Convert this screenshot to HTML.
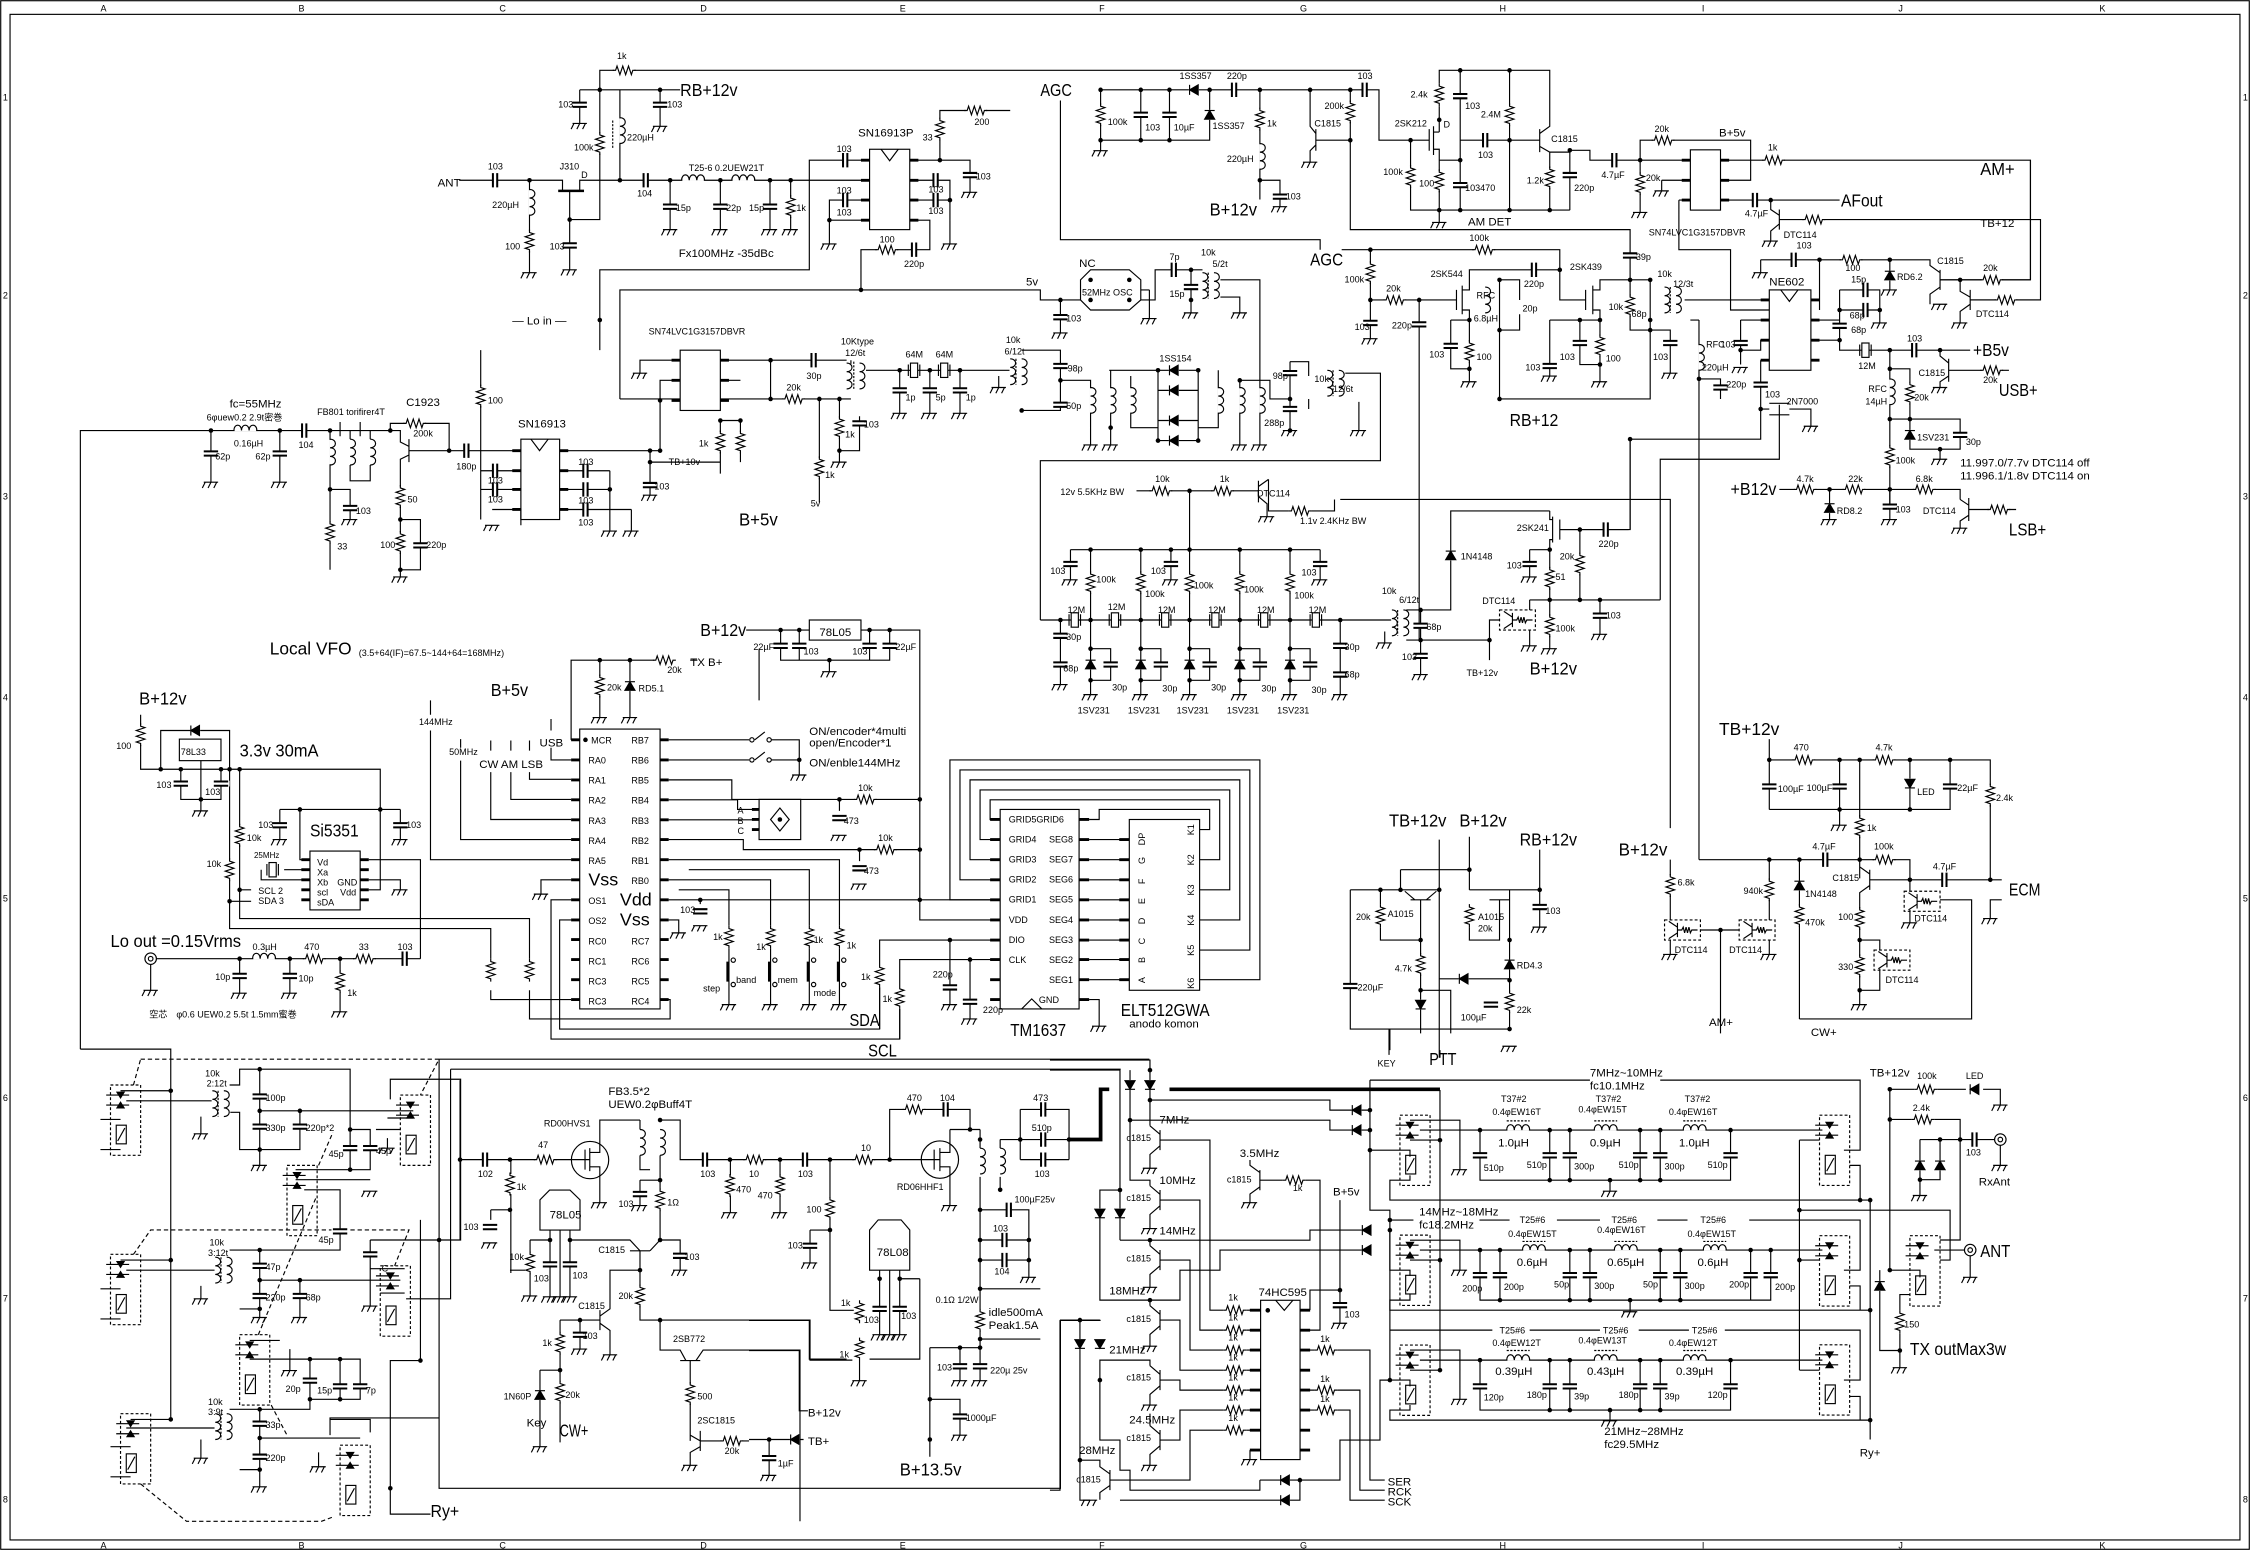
<!DOCTYPE html>
<html><head><meta charset="utf-8"><style>
html,body{margin:0;padding:0;background:#fff}
svg{display:block}
text{font-family:"Liberation Sans","Noto Sans CJK JP",sans-serif;font-size:6.3px;fill:#000;stroke:none}
.m{font-size:8px}.L{font-size:12.5px}.x{font-size:5.6px}
</style></head><body>
<svg xmlns="http://www.w3.org/2000/svg" width="2250" height="1550" viewBox="0 0 1568 1080" preserveAspectRatio="none">
<defs>
<g id="g"><path d="M-5,0H5M-4,0l-2,4M0,0l-2,4M4,0l-2,4"/></g>
<g id="rv"><rect x="-3.5" y="1" width="7" height="14" fill="#fff" stroke="none"/><path d="M0,0v2l3,1l-6,2l6,2l-6,2l6,2l-6,2l3,1v2"/></g>
<g id="rh"><rect x="1" y="-3.5" width="14" height="7" fill="#fff" stroke="none"/><path d="M0,0h2l1,-3l2,6l2,-6l2,6l2,-6l2,6l1,-3h2"/></g>
<g id="cv"><rect x="-6" y="-2" width="12" height="4" fill="#fff" stroke="none"/><path d="M-5,-1.5H5M-5,1.5H5" stroke-width="1.4"/></g>
<g id="ch"><rect x="-2" y="-6" width="4" height="12" fill="#fff" stroke="none"/><path d="M-1.5,-5V5M1.5,-5V5" stroke-width="1.4"/></g>
<g id="lh"><rect x="0.5" y="-4" width="15" height="4.5" fill="#fff" stroke="none"/><path d="M0,0c0,-5 5.3,-5 5.3,0c0,-5 5.3,-5 5.3,0c0,-5 5.4,-5 5.4,0"/></g>
<g id="lv"><rect x="-0.5" y="0.5" width="5" height="17" fill="#fff" stroke="none"/><path d="M0,0c5,0 5,6 0,6c5,0 5,6 0,6c5,0 5,6 0,6"/></g>
<g id="dh"><rect x="-3.5" y="-4" width="7" height="8" fill="#fff" stroke="none"/><path d="M3,-3.5V3.5L-3,0Z" fill="#000"/><path d="M-3,-3.5V3.5"/></g>
<g id="dv"><rect x="-4" y="-3.5" width="8" height="7" fill="#fff" stroke="none"/><path d="M-3.5,3H3.5L0,-3Z" fill="#000"/><path d="M-3.5,-3H3.5"/></g>
<g id="dd"><rect x="-4" y="-3.5" width="8" height="7" fill="#fff" stroke="none"/><path d="M-3.5,-3H3.5L0,3Z" fill="#000"/><path d="M-3.5,3H3.5"/></g>
<g id="xh"><rect x="-2.5" y="-5" width="5" height="10" fill="#fff"/><path d="M-4,-4V4M4,-4V4"/></g>
<circle id="d" r="1.6" fill="#000" stroke="none"/>
<g id="ry"><rect x="0" y="0" width="21" height="49" stroke-dasharray="2,1.5"/><rect x="4" y="28" width="7" height="13"/><path d="M5,39L10,30M-3,7H13M-3,14H13"/><path d="M4.5,5H9.5L7,9ZM4.5,16H9.5L7,12Z" fill="#000"/></g>
<g id="dt"><rect x="0" y="0" width="25" height="14" stroke-dasharray="2,1.5"/><path d="M9,2V12M9,5L3,1M9,9L3,13M9,7H12l1,-2l1,4l1,-4l1,4l1,-4l1,4l1,-2h4"/></g>
<g id="tr"><path d="M-4,0c0,-5 8,-5 8,0M0,-5V5" stroke-dasharray="1.5,1"/></g>
<g id="bnc"><circle r="4"/><circle r="1.6"/></g>
</defs>
<rect width="1568" height="1080" fill="#fff"/>
<g fill="none" stroke="#000" stroke-width="0.8">
<!-- frame -->
<rect x="0.5" y="0.5" width="1567" height="1079"/>
<rect x="7" y="10" width="1554" height="1063"/>

<!-- ===== top-left RF amp ===== -->
<path d="M418,90V49H955M404,62.6H432M404,62.6V86M418,62.6V153H397M432,62.6V125.6M432,62.6H474M460,62.6V88M320,125.6H392V133M404,133V125.6H606M397,133V188M369,125.6V190M467,125.6V160M502,125.6V160M536.6,125.6V160M551,125.6V160"/>
<path d="M389,133H407" stroke-width="1.8"/>
<path d="M418,244V188H564V111.6H606M578,153.4V139.4H606M578,153.4H606M578,153.4V170M634,111.6H676V134M655,111.6V77H704M634,125.6H662V170M634,139.4H662M634,153.4H648V174H600V202M432,278V202H725V209H753M739,209V232"/>
<rect x="606" y="104" width="28" height="56"/><path d="M614,104l6,8l6,-8"/>
<path d="M600,111.6h6M600,125.6h6M600,139.4h6M600,153.4h6M634,111.6h6M634,125.6h6M634,139.4h6M634,153.4h6" stroke-width="2"/>
<!-- left IC SN74 -->
<path d="M474,251H446V260M474,265H460V314M432,278H474M502,251H537V278H502M502,265H516M537,251H590M537,278H593M571,278V350M585,278V322M585,314H599V290M502,293V330M516,293V322M502,293H516M453,322H502M453,314V345M390,314H460"/>
<rect x="474" y="244" width="28" height="42"/>
<path d="M468,251h6M468,265h6M468,279h6M502,251h6M502,265h6M502,279h6" stroke-width="2"/>
<!-- SN16913 -->
<path d="M313,314H363M272,300V295H313V314M335,244V362M335,328H363M335,341H363M390,328H425M390,341H425M390,355H440M425,328V370M440,355V370M343,355H363V366"/>
<rect x="363" y="306" width="27" height="56"/><path d="M370,306l6,8l6,-8"/>
<path d="M357,314h6M357,328h6M357,341h6M357,355h6M390,314h6M390,328h6M390,341h6M390,355h6" stroke-width="2"/>
<!-- input chain -->
<path d="M56,731V300H272M147,300V336M195,300V336M230,300V397M230,341H244V362M244,306V300H237M258,306V300H251M244,324V335H258V324M265,300H272"/>
<path d="M237,294V304M251,294V304"/>
<path d="M272,300H279V308L285,311M285,306V322M285,314H313M285,317L279,320V402M279,362H293V397H279"/>
<!-- AGC detector -->
<path d="M739,70V167H920V174M767,62.6H961V97.7H996M767,62.6V105M767,97.7H843V62.6M795,62.6V97.7M815,62.6V97.7M878,62.6V139M878,125.6H892V144M913,62.6V88L917,93M917,90V105M917,97.7H941M917,101L913,105V113M941,62.6V160H1136V195"/>
<path d="M1003,58V49H1080V88L1073,93M1073,90V106M1073,102L1080,106H1094M1003,74V92M996,90V105M999,88V108M999,92H1003M999,104H1003V111.6H1017.6M1003,111.6V155M1017.6,49V146.4M1017.6,97.7H1073M983,97.7V146.4H1094M1052,49V146.4M1080,106V146.4M1094,104.7V146.4"/>
<path d="M1094,104.7H1108V111.6H1178M1143,111.6V97.7H1220V125.6H1199M1143,111.6V148M1158,125.6H1178M1158,125.6V133M1170,139.4H1178M1170,139.4V174H1206V216H1233M1199,111.6H1415V195H1352M1199,139.4H1282M1234,139.4V146L1240,150M1240,146V160M1240,153H1422V209H1373M1240,156L1234,161V168"/>
<rect x="1178" y="104.4" width="21" height="42"/>
<path d="M1172,111.6h6M1172,125.6h6M1172,139.4h6M1199,111.6h6M1199,125.6h6M1199,139.4h6" stroke-width="2"/>
<!-- 2SK544 / 2SK439 -->
<path d="M935,174H1087V209H1105M1035,188H1087M955,174V236M955,209H1015M989,209V446M1015,202V216M1019,199V219M1019,202H1024V188H1035M1019,216H1024V266M1011,223H1024M1011,223V257H1024"/>
<path d="M1045,195V278H1150V195M1045,195H1059V209M1059,219V230H1045M1105,202V216M1110,199V219M1110,202H1115V195H1150M1110,216H1115V266M1101,223H1115M1101,223V254H1115M1080,223H1101M1080,223V262M1136,195V230H1150M1150,230H1164V260M1174,209H1233M1184,223V599M1178,223H1184M1184,264H1199V278"/>
<!-- NE602 -->
<path d="M1213,223H1233M1213,223V254M1213,244H1227V237H1233M1227,251H1233M1227,251V306H1136V369H1087M1227,285H1233M1240,282V320H1157V418M1233,281H1247M1233,289H1247M1247,285H1262V297"/>
<rect x="1233" y="202" width="29" height="56"/><path d="M1241,202l6,8l6,-8"/>
<path d="M1227,209h6M1227,223h6M1227,237h6M1227,251h6M1262,209h6M1262,223h6M1262,237h6M1262,251h6" stroke-width="2"/>
<path d="M1262,223H1282M1282,202V244H1300M1262,237H1282M1282,202H1310V225M1282,216H1310M1300,244H1373M1317,244V328M1352,244V248L1358,253M1358,250V266M1358,258H1400M1358,262L1352,266V270M1317,257H1331V313H1366V292H1317M1352,313V320M1317,328V355"/>
<path d="M1240,341H1366V348M1366,348L1372,352M1372,347V363M1372,355H1405M1372,359L1366,363V368M1275,341V362M1317,341V362"/>
<path d="M1227,181H1268V216M1227,181V190M1268,181H1345V185L1352,190M1352,188V202M1352,195H1415M1352,200L1345,205V212M1317,181V202M1366,195V203L1373,207M1373,202V216M1373,209H1422M1373,212L1366,217V225"/>
<!-- OSC -->
<path d="M753,195L760,188H787L795,195V209L787,216H760L753,209Z"/>
<path d="M795,209H805V188H838M830,188V218M850,195H878V310M850,207H864V218M801,202V222M795,202H801"/>
<!-- mixer -->
<path d="M712,244H739V286H712M739,265H760V310M696,262V270M774,258V310M788,262V298H807M773,258H835M807,258V307M835,258V307M807,272H835M807,293H835M807,307H835M849,258V298H835M864,265V310M864,265H885V278H899M899,252V300M899,252H912V262M912,278V285M937,260H962V321H725V432M947,280V300"/>
<path d="M599,258H707M627,258V288M648,258V288M669,258V288M593,251V258"/>
<!-- xtal filter -->
<path d="M725,432H970M746,383H920M760,383V432M795,383V432M829,342V432M864,383V432M899,383V432M746,383V404M816,383V404M920,383V404M739,432V477M934,432V484"/>
<path d="M760,432V484M760,452H774V474H760M795,432V484M795,452H809V474H795M829,432V484M829,452H843V474H829M864,432V484M864,452H878V474H864M899,432V484M899,452H913V474H899"/>
<path d="M980,425H990V470M980,446H990M965,440V448M990,425H1011V356H1080M934,348H1164V577M990,446H1038V460M1038,446V432H1045"/>
<path d="M792,342H877M877,335V350M877,339L884,334M877,346L883,351V360M884,334V356H898M914,356H930V348"/>
<!-- 2SK241 -->
<path d="M1087,362V376M1082,360V378M1082,362H1080V356M1082,376H1080V452M1087,369H1135M1066,383H1080M1066,383V402M1101,369V418M1066,418H1157M1115,418V442M1066,418V425M1066,439V450M1080,418H1082"/>
<use href="#dt" x="1045" y="425"/>

<!-- ===== left middle: Si5351 / 78L33 ===== -->
<path d="M98,498V536H265V620M112,536V509H160V536M140,530V557M126,536V557H154V536M140,557V565M160,536V647H342V668M160,628H175M167,536V640H369V668M167,620H175M195,564H279M195,564V585M279,564V585M209,564V599H216M182,606V613H216M198,606H216M257,613H279V620M265,564V620H257M257,599H293V668"/>
<rect x="125" y="515" width="29" height="15"/>
<rect x="216" y="593" width="35" height="41"/>
<path d="M210,599h6M210,606h6M210,613h6M210,620h6M210,627h6M251,599h6M251,606h6M251,613h6M251,620h6M251,627h6" stroke-width="2"/>
<path d="M109,668H293M105,672V690M167,668V692M202,668V692M237,668V705"/>
<use href="#bnc" x="105" y="668"/>
<!-- PIC -->
<rect x="404" y="508" width="56" height="195"/>
<path d="M398,515.5h6M398,529.5h6M398,543.4h6M398,557.3h6M398,571.2h6M398,585h6M398,599h6M398,613h6M398,627h6M398,641h6M398,654.7h6M398,668.6h6M398,682.6h6M398,696.5h6M460,515.5h6M460,529.5h6M460,543.4h6M460,557.3h6M460,571.2h6M460,585h6M460,599h6M460,613h6M460,627h6M460,641h6M460,654.7h6M460,668.6h6M460,682.6h6M460,696.5h6" stroke-width="2"/>
<path d="M398,515.5V460H470M418,460V500M439,460V500M486,460H481M300,488V498M300,509V599H398M321,515V521M321,530V585H398M342,516V523M342,538V571H398M356,516V523M356,538V557H398M369,516V523M369,538V543H398M384,501V509M384,521V529.5H398M398,613H377V623M398,627H384V724H627V703M398,641H390V717H613V688M342,690V696.5H398M369,690V710H467V696.5H460"/>
<path d="M466,515.5H522M466,529.5H522M537.5,515.5H557V529.5M537.5,529.5H557V540M466,543.4H510V557H641M466,557.3H514V564H529M466,571.2H529M466,585H518V592H641M466,599H585V645M480,606H564V645M466,613H537V645M473,620H508V645M466,627H697M488,627V630M466,641H473V650M585,557V565M599,592V600M508,661V700M537,661V700M564,661V700M585,661V700"/>
<path d="M526,515.5L533,510M526,529.5L533,524"/>
<circle cx="524" cy="515.5" r="1.5"/><circle cx="536" cy="515.5" r="1.5"/><circle cx="524" cy="529.5" r="1.5"/><circle cx="536" cy="529.5" r="1.5"/>
<rect x="529" y="557" width="29" height="28"/><path d="M543.5,563L550,571L543.5,579L537,571Z"/>
<path d="M524,564h5M524,571h5M524,578h5" stroke-width="2"/>
<path d="M507,670V684M536,670V684M563,670V684M584,670V684" stroke-width="1.6"/>
<circle cx="511" cy="669" r="1.5"/><circle cx="511" cy="686" r="1.5"/><circle cx="540" cy="669" r="1.5"/><circle cx="540" cy="686" r="1.5"/><circle cx="567" cy="669" r="1.5"/><circle cx="567" cy="686" r="1.5"/><circle cx="588" cy="669" r="1.5"/><circle cx="588" cy="686" r="1.5"/>
<!-- 78L05 top -->
<path d="M520,439H564M600,439H641V641H697M544,439V460H620V439M557,439V460M606,439V460M578,460V468M529,452V488"/>
<rect x="564" y="432" width="36" height="14"/>
<!-- TM1637 / ELT512 -->
<rect x="697" y="564" width="55" height="139"/>
<path d="M712,703L719,696L726,703"/>
<path d="M690,571h7M690,585h7M690,599h7M690,613h7M690,627h7M690,641h7M690,655h7M690,668.6h7M690,682.6h7M690,696.5h7M752,571h7M752,585h7M752,599h7M752,613h7M752,627h7M752,641h7M752,655h7M752,668.6h7M752,682.6h7M752,696.5h7" stroke-width="2"/>
<rect x="787" y="571" width="49" height="119"/>
<path d="M759,585H787M759,599H787M759,613H787M759,627H787M759,641H787M759,655H787M759,668.6H787M759,682.6H787"/>
<path d="M780,585h7M780,599h7M780,613h7M780,627h7M780,641h7M780,655h7M780,668.6h7M780,682.6h7" stroke-width="2"/>
<path d="M697,627H662V529.5H878V682.6H836M697,613H669V536.5H871V662H836M697,599H676V543.4H864V641H836M697,585H683V550.4H857V620H836M697,571H690V557.3H850V599H836M759,571H766V564H843V578H836"/>
<path d="M697,655H613V672M613,688V717M697,668.6H627V687M627,703V724M662,655V700M676,668.6V710M759,696.5H766V715"/>
<!-- PTT -->
<path d="M1003,585V737M976,606H1024M1024,583V620M941,620H1003M976,606V620M983,627H997M986,627L979,621M994,627L1001,621M990,627V720M962,620V630M962,646V655H990M990,690H1011V720M941,620V717H1052M968,717V735M1024,620H1052M1045,627V655H1024V646M1038,627H1052M1052,620V717M1003,682H1052M1073,592V646M1052,620H1073"/>
<!-- TB+12v ECM -->
<path d="M1233,515V564M1233,529.5H1387V613M1233,564H1359V529.5M1282,529.5V575M1331,529.5V564M1296,529.5V612M1184,599H1331V613M1303,606V620M1303,613H1395M1303,609L1296,604V599M1303,617L1296,622V700M1296,655H1310V662M1310,675V690H1296M1331,613V621M1331,634V643M1352,627H1374V710H1254M1395,627H1387V640M1233,599V641M1233,655V665M1254,599V710M1164,599V641M1164,655V665M1185,648H1212M1199,648V720"/>
<use href="#dt" x="1327" y="621"/><use href="#dt" x="1306" y="662"/><use href="#dt" x="1212" y="641"/><use href="#dt" x="1160" y="641"/>
<!-- 2SK241 extra / right column lines -->
<path d="M1415,111.6V195M1136,306V369"/>

<!-- ===== bottom-left relay/BPF ===== -->
<path d="M56,731H119V989M88,767H148M140,778V790M160,756H167V745H244V815M160,775H167V801H209V785M181,745V812M181,774H288M244,787H258V815H244M209,774V801"/>
<path d="M88,885H150M140,896V905M160,871H237V858M181,871V918M181,892H279M209,892V918M167,912H181"/>
<path d="M88,995H150M140,1003V1016M160,982H216V947H251V975H216M237,947V975M181,982V1036M181,1002H251M167,1024H181"/>
<path d="M84,760H119M84,878H119M91,989H119M70,780H84M70,801H84M70,898H84M70,919H84M77,1008H91M77,1029H91"/>
<path d="M206,815H244M206,822H258M212,829H237V858M174,934H195M174,947H216M202,940V955M258,864V884H282M265,901H282M258,874V910M230,989H258V998M222,1012V1022M270,779H288M262,787H279M270,793V800"/>
<path d="M306,738H801M314,745H781M306,738V988H230V1000M314,745V905H283M272,766V752H321V864H258M293,850V948H272V1055H300M306,988V1037H739V920H767M306,864H321"/>
<path d="M98,738H306L293,763M93,756L98,738M93,874L105,857H285L275,882M98,1034L130,1060H224L232,1057M222,812L232,789M180,930L220,835M189,979L200,1000" stroke-dasharray="3,2"/>
<use href="#ry" x="77" y="756"/><use href="#ry" x="77" y="874"/><use href="#ry" x="84" y="985"/><use href="#ry" x="279" y="763"/><use href="#ry" x="200" y="812"/><use href="#ry" x="265" y="882"/><use href="#ry" x="167" y="930"/><use href="#ry" x="237" y="1007"/>
<!-- driver/PA -->
<path d="M320.6,752.6V864M320.6,808H411M356,808V887M342,843H356M342,843V850M355.4,843H355.4M355.4,885H366M411,808"/>
<circle cx="411.2" cy="808.3" r="13"/>
<path d="M407.7,801V815M411,800V816M411,803H418V780.4H446M411,813H418V838"/>
<path d="M446,780.4V787M460,780.4H474V808H509M446,805V815H453M460,805V864M446,822.3H460M446,822.3V840"/>
<path d="M376.3,857.1V836L383,829.2H397.2L404.2,836V857.1Z"/>
<path d="M383.3,857.1V903.6M390.3,857.1V903.6M397.2,857.1V903.6M369.4,864H383.3M369.4,864V903M397,864H439L446,871.5M439,871.5H453M453,871.5L460,864M460,864H474V885M446,871.5V885H425.1V912L418.1,917M446,885V919.8H460M418.1,912.9V926.8M418.1,922L425.1,927V944M418.1,919.8H390.3M404.2,919.8V940M390.3,919.8V1005M376.3,954.7H390.3M376.3,954.7V1008"/>
<path d="M460,919.8V940.7H474L478,948M474,948H488M485,948L490,940.7H557.5V1060M481,948V1004M488,997V1011M481,1000L488,1004M488,1004H522M488,1008L481,1012V1021"/>
<path d="M460,919.8H564.5V947.7H594"/>
<!-- main amp -->
<path d="M509,808H655M509,808V845M543.6,808V845M578.4,808V913H595M564.5,857.1H578.4M564.5,857.1V880M620,808V773H676V787M662,787H683"/>
<circle cx="655" cy="808" r="13"/>
<path d="M651,801V815M655,800V816M655,803H662V787M655,813H662V840M683,787V800M683,820V933M697,794V800M697,820V829M697,794H745M711,773V808M711,773H745V808M711,808H745"/>
<path d="M745,794H767V759H773M815,759H1003.5" stroke-width="2.6"/>
<path d="M683,843H717V890M683,864H717M683,878H717M683,898H725M683,933H725M683,933V962M648,939H683M669,939V962M648,939V1015M648,975H669V1000"/>
<path d="M606,857V885H634V857L628,850H612Z"/>
<path d="M613,885V930M620,885V930M627,885V930M641,891H627M641,891V947H606M564,920V947H590M522,920H564M522,941H557V983H563M599,948V962M522,1003H560M536,1003V1028"/>
<!-- band switch transistors -->
<path d="M731.7,738.6H801.4V784.4M731.7,745.6H780.5V864.1M787.5,745.6V822.3H801.4V826.2M787.5,780.5H926.8V787.4H954.7M801.4,766.5H926.8V773.5H954.7M801.4,868V864.1M780.5,864.1H912.9V857.1H954.7M801.4,909.8V905.9H766.5V829.2H780.5M801.4,905.9H822.3V885H850.2V871H954.7M801.4,951.6V947.7H766.5V1003.4H780.5V1024.4H787.5V1038.3H878V1031.3M738.7,919.8H766.5M752.6,919.8V1045.3H759.6M738.7,919.8V1038.3H731.7M752.6,1017.4H766.5V1022L773.5,1027M780.5,1045.3H895.5M899,1045.3H905.9V1031.3M878,1031.3H905.9H933.8V1003.4H961.7V961.6H968.6M801.4,993.4V985"/>
<path d="M808.4,787.4V801.4M801.4,784.4L808.4,790.4M808.4,798.4L801.4,804.4V814M808.4,829.2V843.2M801.4,826.2L808.4,832.2M808.4,840.2L801.4,846.2V856M808.4,871V885M801.4,868L808.4,874M808.4,882L801.4,888V897M808.4,912.8V926.8M801.4,909.8L808.4,915.8M808.4,923.8L801.4,929.8V938M808.4,954.6V968.6M801.4,951.6L808.4,957.6M808.4,965.6L801.4,971.6V979M808.4,996.4V1010.4M801.4,993.4L808.4,999.4M808.4,1007.4L801.4,1013.4V1021M773.5,1024.3V1038.3M773.5,1035L766.5,1040V1045"/>
<path d="M808.4,794.4H843.2V912.9H852.5M808.4,836.2H836.2V926.8H852.5M808.4,878H829.3V940.7H852.5M808.4,919.8H822.3V954.7H852.5M808.4,961.6H822.3V968.6H852.5M808.4,1003.4H822.3V982.5H852.5M773.5,1031.3H829.3V996.5H852.5M868.5,912.9H878.5M868.5,926.8H878.5M868.5,940.7H878.5M868.5,954.7H878.5M868.5,968.6H878.5M868.5,982.5H878.5M868.5,996.5H878.5"/>
<path d="M878,815.3V829.3M878,822.3H894M910,822.3H919.9V926.8H905.9M871.1,808.3V812L878,817M878,827L871.1,832V838M933.8,836.2V922M912.9,912.9V898.9H933.8M905.9,912.9H912.9M905.9,940.7H916M932,940.7H954.7V1031.3H965M905.9,968.6H916M932,968.6H947.7V1038.3H965M905.9,982.5H916M932,982.5H940.8V1045.3H965M871.1,1010.4V1017"/>
<rect x="878.5" y="906" width="27.5" height="111"/><path d="M889,906L895,913L901,906"/>
<path d="M871,912.9h7.5M871,926.8h7.5M871,940.7h7.5M871,954.7h7.5M871,968.6h7.5M871,982.5h7.5M871,996.5h7.5M871,1010.4h7.5M906,912.9h7M906,926.8h7M906,940.7h7M906,954.7h7M906,968.6h7M906,982.5h7M906,996.5h7M906,1010.4h7" stroke-width="2"/>
<!-- relays middle & filters -->
<path d="M954.7,752.6V843.2H968.6V961.6M954.7,752.6H1108M1157,752.6H1296.3V801.4H1285M954.7,801.4H982.6V806M982.6,819V822.3H968.6V836.2H1296.3M982.6,780.5H1017.4V815M989.5,787.4H1270M982.6,794.4H1003.5"/>
<path d="M968.6,850.1H985M1031,850.1H1052M1085,850.1H1115M1155,850.1H1176M1219,850.1H1296.3V885H1285M968.6,857.1V885H982.6V889M982.6,902V905.9H968.6V912.9H1303.3M982.6,864.1H1017.4V885M989.5,871H1270M982.6,878H1003.5"/>
<path d="M968.6,926.8H1040M1066,926.8H1115M1142,926.8H1177M1202,926.8H1296.3V961.6H1285M961.7,961.6H982.6V966M982.6,979V982.5H968.6V989.5H1303.3M982.6,940.7H1017.4V975M989.5,947.7H1270M982.6,954.7H1003.5M1003.5,759.5V954.7M968.6,731.7V717M1003.5,731.7V737"/>
<path d="M1031.4,787.4V822.3H1206V787.4M1080,787.4V822.3M1094,787.4V822.3M1143,787.4V822.3M1157,787.4V822.3M1122,822.3V830"/>
<path d="M1031.4,871V905.9H1234V871M1045.3,871V905.9M1094,871V905.9M1108,871V905.9M1157,871V905.9M1171,871V905.9M1220,871V905.9M1136,905.9V914"/>
<path d="M1031.4,947.7V982.5H1206V947.7M1080,947.7V982.5M1094,947.7V982.5M1143,947.7V982.5M1157,947.7V982.5M1122,982.5V990"/>
<use href="#ry" x="975.6" y="777"/><use href="#ry" x="975.6" y="860.6"/><use href="#ry" x="975.6" y="937.2"/>
<use href="#ry" x="1268" y="777"/><use href="#ry" x="1268" y="861"/><use href="#ry" x="1268" y="937"/><use href="#ry" x="1331" y="861"/>
<path d="M1254,794.4V954.7M1254,794.4H1268M1254,878H1268M1254,954.7H1268M1289,812H1296.3V836.2H1303.3V1003M1289,896H1296.3V912.9M1289,973H1296.3V989.5M1254,843.2H1359V878H1352"/>
<path d="M1317,759V885M1317,759H1334M1350,759H1370M1382,759H1394V770M1317,780H1332M1348,780H1366V864H1352M1338,794H1390M1338,794V822H1352V794M1338,822V833M1394,798V812M1348,871H1369M1373,875V890M1317,885H1338V890M1331,902H1324V913M1324,929V953M1310,885V941H1324"/>
<use href="#bnc" x="1394" y="794"/><use href="#bnc" x="1373" y="871"/>
</g>

<!-- ===== components ===== -->
<g fill="none" stroke="#000" stroke-width="0.8">
<!-- resistors vertical -->
<use href="#rv" x="418" y="92"/><use href="#rv" x="369" y="160"/><use href="#rv" x="551" y="136"/><use href="#rv" x="655" y="82"/><use href="#rv" x="335" y="268"/><use href="#rv" x="502" y="300"/><use href="#rv" x="516" y="300"/><use href="#rv" x="571" y="318"/><use href="#rv" x="585" y="290"/><use href="#rv" x="230" y="363"/><use href="#rv" x="279" y="338"/><use href="#rv" x="279" y="370"/>
<use href="#rv" x="767" y="72"/><use href="#rv" x="878" y="75"/><use href="#rv" x="941" y="70"/><use href="#rv" x="1003" y="58"/><use href="#rv" x="1052" y="72"/><use href="#rv" x="1003" y="118"/><use href="#rv" x="983" y="115"/><use href="#rv" x="1080" y="116"/><use href="#rv" x="1143" y="120"/><use href="#rv" x="955" y="182"/><use href="#rv" x="1024" y="237"/><use href="#rv" x="1115" y="233"/><use href="#rv" x="1136" y="205"/><use href="#rv" x="1331" y="266"/><use href="#rv" x="1317" y="310"/>
<use href="#rv" x="760" y="398"/><use href="#rv" x="795" y="398"/><use href="#rv" x="829" y="398"/><use href="#rv" x="864" y="398"/><use href="#rv" x="899" y="398"/><use href="#rv" x="1080" y="395"/><use href="#rv" x="1101" y="385"/><use href="#rv" x="1080" y="428"/>
<use href="#rv" x="98" y="504"/><use href="#rv" x="160" y="598"/><use href="#rv" x="167" y="574"/><use href="#rv" x="237" y="676"/><use href="#rv" x="342" y="668"/><use href="#rv" x="369" y="668"/><use href="#rv" x="418" y="470"/><use href="#rv" x="508" y="645"/><use href="#rv" x="537" y="645"/><use href="#rv" x="564" y="645"/><use href="#rv" x="585" y="645"/><use href="#rv" x="613" y="672"/><use href="#rv" x="627" y="687"/>
<use href="#rv" x="962" y="630"/><use href="#rv" x="990" y="664"/><use href="#rv" x="1024" y="630"/><use href="#rv" x="1052" y="690"/><use href="#rv" x="1387" y="546"/><use href="#rv" x="1296" y="568"/><use href="#rv" x="1296" y="632"/><use href="#rv" x="1296" y="665"/><use href="#rv" x="1233" y="612"/><use href="#rv" x="1254" y="630"/><use href="#rv" x="1164" y="609"/>
<use href="#rv" x="355.4" y="817"/><use href="#rv" x="460" y="828"/><use href="#rv" x="446" y="895"/><use href="#rv" x="390.3" y="928"/><use href="#rv" x="390.3" y="962"/><use href="#rv" x="481" y="963"/><use href="#rv" x="508.7" y="818"/><use href="#rv" x="543.6" y="818"/><use href="#rv" x="578.4" y="834"/><use href="#rv" x="683" y="912"/><use href="#rv" x="599" y="906"/><use href="#rv" x="599" y="932"/><use href="#rv" x="369.4" y="872"/><use href="#rv" x="1324" y="913"/>
<!-- resistors horizontal -->
<use href="#rh" x="427" y="49"/><use href="#rh" x="672" y="77"/><use href="#rh" x="610" y="174"/><use href="#rh" x="545" y="278"/><use href="#rh" x="281" y="295"/><use href="#rh" x="1151" y="97.7"/><use href="#rh" x="1228" y="111.6"/><use href="#rh" x="1256" y="153"/><use href="#rh" x="1026" y="174"/><use href="#rh" x="964" y="209"/><use href="#rh" x="1282" y="181"/><use href="#rh" x="1380" y="195"/><use href="#rh" x="1390" y="209"/><use href="#rh" x="1380" y="258"/><use href="#rh" x="1250" y="341"/><use href="#rh" x="1284" y="341"/><use href="#rh" x="1333" y="341"/><use href="#rh" x="1385" y="355"/><use href="#rh" x="801" y="342"/><use href="#rh" x="844" y="342"/><use href="#rh" x="898" y="356"/>
<use href="#rh" x="211" y="668"/><use href="#rh" x="246" y="668"/><use href="#rh" x="455" y="460"/><use href="#rh" x="595" y="557"/><use href="#rh" x="609" y="592"/><use href="#rh" x="1249" y="529.5"/><use href="#rh" x="1305" y="529.5"/><use href="#rh" x="1305" y="599"/>
<use href="#rh" x="372" y="808"/><use href="#rh" x="518" y="808"/><use href="#rh" x="594" y="808"/><use href="#rh" x="629" y="773"/><use href="#rh" x="502" y="1004"/>
<use href="#rh" x="852.5" y="912.9"/><use href="#rh" x="852.5" y="926.8"/><use href="#rh" x="852.5" y="940.7"/><use href="#rh" x="852.5" y="954.7"/><use href="#rh" x="852.5" y="968.6"/><use href="#rh" x="852.5" y="982.5"/><use href="#rh" x="852.5" y="996.5"/><use href="#rh" x="916" y="940.7"/><use href="#rh" x="916" y="968.6"/><use href="#rh" x="916" y="982.5"/><use href="#rh" x="894" y="822.3"/><use href="#rh" x="1334" y="759"/><use href="#rh" x="1332" y="780"/>
<!-- caps on vertical wires -->
<use href="#cv" x="404" y="73"/><use href="#cv" x="460" y="73"/><use href="#cv" x="397" y="171"/><use href="#cv" x="467" y="144"/><use href="#cv" x="502" y="144"/><use href="#cv" x="536.6" y="144"/><use href="#cv" x="676" y="122"/><use href="#cv" x="795" y="80"/><use href="#cv" x="815" y="80"/><use href="#cv" x="892" y="137"/><use href="#cv" x="1017.6" y="67"/><use href="#cv" x="1017.6" y="129"/><use href="#cv" x="1094" y="122"/><use href="#cv" x="1136" y="178"/><use href="#cv" x="955" y="225"/><use href="#cv" x="989" y="226"/><use href="#cv" x="1011" y="241"/><use href="#cv" x="1101" y="239"/><use href="#cv" x="1080" y="255"/><use href="#cv" x="1164" y="239"/><use href="#cv" x="1199" y="270"/><use href="#cv" x="1213" y="239"/><use href="#cv" x="1227" y="268"/><use href="#cv" x="1282" y="227"/><use href="#cv" x="1366" y="303"/><use href="#cv" x="1317" y="353"/>
<use href="#cv" x="147" y="316"/><use href="#cv" x="195" y="316"/><use href="#cv" x="244" y="354"/><use href="#cv" x="293" y="380"/><use href="#cv" x="453" y="338"/><use href="#cv" x="599" y="295"/><use href="#cv" x="627" y="272"/><use href="#cv" x="648" y="272"/><use href="#cv" x="669" y="272"/><use href="#cv" x="739" y="221"/><use href="#cv" x="830" y="200"/><use href="#cv" x="739" y="255"/><use href="#cv" x="739" y="282"/><use href="#cv" x="899" y="260"/><use href="#cv" x="899" y="285"/>
<use href="#cv" x="746" y="393"/><use href="#cv" x="816" y="393"/><use href="#cv" x="920" y="393"/><use href="#cv" x="739" y="443"/><use href="#cv" x="739" y="463"/><use href="#cv" x="774" y="463"/><use href="#cv" x="809" y="463"/><use href="#cv" x="843" y="463"/><use href="#cv" x="878" y="463"/><use href="#cv" x="913" y="463"/><use href="#cv" x="934" y="450"/><use href="#cv" x="934" y="470"/><use href="#cv" x="990" y="436"/><use href="#cv" x="990" y="457"/><use href="#cv" x="1066" y="393"/><use href="#cv" x="1115" y="429"/>
<use href="#cv" x="126" y="546"/><use href="#cv" x="154" y="546"/><use href="#cv" x="195" y="575"/><use href="#cv" x="279" y="575"/><use href="#cv" x="167" y="680"/><use href="#cv" x="202" y="680"/><use href="#cv" x="488" y="635"/><use href="#cv" x="544" y="450"/><use href="#cv" x="557" y="450"/><use href="#cv" x="606" y="450"/><use href="#cv" x="620" y="450"/><use href="#cv" x="585" y="570"/><use href="#cv" x="599" y="605"/><use href="#cv" x="662" y="688"/><use href="#cv" x="676" y="698"/><use href="#cv" x="941" y="687"/><use href="#cv" x="1039" y="700"/><use href="#cv" x="1073" y="632"/><use href="#cv" x="1233" y="548"/><use href="#cv" x="1282" y="548"/><use href="#cv" x="1359" y="548"/>
<use href="#cv" x="341.5" y="855"/><use href="#cv" x="383.3" y="881"/><use href="#cv" x="397.2" y="881"/><use href="#cv" x="446" y="832"/><use href="#cv" x="474" y="875"/><use href="#cv" x="404.2" y="930"/><use href="#cv" x="564.5" y="868"/><use href="#cv" x="613" y="912"/><use href="#cv" x="627" y="912"/><use href="#cv" x="669" y="952"/><use href="#cv" x="683" y="952"/><use href="#cv" x="669" y="987"/><use href="#cv" x="536" y="1016"/><use href="#cv" x="933.8" y="909.4"/>
<use href="#cv" x="181" y="764"/><use href="#cv" x="181" y="785"/><use href="#cv" x="209" y="785"/><use href="#cv" x="244" y="800"/><use href="#cv" x="258" y="800"/><use href="#cv" x="181" y="882"/><use href="#cv" x="181" y="903"/><use href="#cv" x="209" y="903"/><use href="#cv" x="216" y="962"/><use href="#cv" x="237" y="966"/><use href="#cv" x="251" y="966"/><use href="#cv" x="181" y="992"/><use href="#cv" x="181" y="1015"/><use href="#cv" x="258" y="874"/><use href="#cv" x="237" y="858"/>
<use href="#cv" x="1031.4" y="805"/><use href="#cv" x="1080" y="805"/><use href="#cv" x="1094" y="805"/><use href="#cv" x="1143" y="805"/><use href="#cv" x="1157" y="805"/><use href="#cv" x="1206" y="805"/>
<use href="#cv" x="1031.4" y="888.5"/><use href="#cv" x="1045.3" y="888.5"/><use href="#cv" x="1094" y="888.5"/><use href="#cv" x="1108" y="888.5"/><use href="#cv" x="1157" y="888.5"/><use href="#cv" x="1171" y="888.5"/><use href="#cv" x="1220" y="888.5"/><use href="#cv" x="1234" y="888.5"/>
<use href="#cv" x="1031.4" y="966"/><use href="#cv" x="1080" y="966"/><use href="#cv" x="1094" y="966"/><use href="#cv" x="1143" y="966"/><use href="#cv" x="1157" y="966"/><use href="#cv" x="1206" y="966"/>
<!-- caps on horizontal wires -->
<use href="#ch" x="345" y="125.6"/><use href="#ch" x="450" y="125.6"/><use href="#ch" x="589" y="111.6"/><use href="#ch" x="589" y="139.4"/><use href="#ch" x="652" y="125.6"/><use href="#ch" x="652" y="139.4"/><use href="#ch" x="637" y="174"/><use href="#ch" x="567" y="251"/><use href="#ch" x="212" y="300"/><use href="#ch" x="325" y="314"/><use href="#ch" x="345" y="328"/><use href="#ch" x="345" y="341"/><use href="#ch" x="408" y="328"/><use href="#ch" x="408" y="341"/><use href="#ch" x="408" y="355"/><use href="#ch" x="860" y="62.6"/><use href="#ch" x="951" y="62.6"/><use href="#ch" x="1035" y="97.7"/><use href="#ch" x="1125" y="111.6"/><use href="#ch" x="1223" y="139.4"/><use href="#ch" x="1069" y="188"/><use href="#ch" x="1250" y="181"/><use href="#ch" x="1300" y="202"/><use href="#ch" x="1300" y="216"/><use href="#ch" x="1334" y="244"/><use href="#ch" x="818" y="188"/><use href="#ch" x="1119" y="369"/><use href="#ch" x="282" y="668"/><use href="#ch" x="1272" y="599"/><use href="#ch" x="1355" y="613"/>
<use href="#ch" x="338" y="808"/><use href="#ch" x="491.3" y="808"/><use href="#ch" x="561" y="808"/><use href="#ch" x="659" y="773"/><use href="#ch" x="727" y="773"/><use href="#ch" x="727" y="794"/><use href="#ch" x="727" y="808"/><use href="#ch" x="703" y="843"/><use href="#ch" x="700" y="864"/><use href="#ch" x="700" y="878"/><use href="#ch" x="1376" y="794"/>
<!-- inductors -->
<use href="#lv" x="432" y="82"/><use href="#lv" x="369" y="132"/><use href="#lv" x="878" y="100"/><use href="#lv" x="230" y="306"/><use href="#lv" x="244" y="306"/><use href="#lv" x="258" y="306"/><use href="#lv" x="760" y="270"/><use href="#lv" x="774" y="270"/><use href="#lv" x="788" y="270"/><use href="#lv" x="849" y="270"/><use href="#lv" x="864" y="270"/><use href="#lv" x="878" y="270"/><use href="#lv" x="1317" y="264"/><use href="#lv" x="1184" y="240"/><use href="#lv" x="1035" y="200"/><use href="#lv" x="446" y="787"/><use href="#lv" x="460" y="787"/><use href="#lv" x="683" y="800"/><use href="#lv" x="697" y="800"/>
<use href="#lv" x="590" y="253"/><use href="#lv" x="599" y="253"/><use href="#lv" x="704" y="250"/><use href="#lv" x="712" y="250"/><use href="#lv" x="838" y="190"/><use href="#lv" x="846" y="190"/><use href="#lv" x="925" y="258"/><use href="#lv" x="933" y="258"/><use href="#lv" x="1160" y="200"/><use href="#lv" x="1168" y="200"/><use href="#lv" x="970" y="425"/><use href="#lv" x="978" y="425"/><use href="#lv" x="148" y="760"/><use href="#lv" x="156" y="760"/><use href="#lv" x="150" y="876"/><use href="#lv" x="158" y="876"/><use href="#lv" x="150" y="985"/><use href="#lv" x="158" y="985"/>
<use href="#lh" x="475" y="125.6"/><use href="#lh" x="510" y="125.6"/><use href="#lh" x="163" y="300"/><use href="#lh" x="176" y="668"/>
<use href="#lh" x="1050" y="787.4"/><use href="#lh" x="1111" y="787.4"/><use href="#lh" x="1173" y="787.4"/><use href="#lh" x="1061" y="871"/><use href="#lh" x="1125" y="871"/><use href="#lh" x="1187" y="871"/><use href="#lh" x="1050" y="947.7"/><use href="#lh" x="1111" y="947.7"/><use href="#lh" x="1173" y="947.7"/>
<path d="M427,84V104M1050,781H1066M1111,781H1127M1173,781H1189M1061,865H1077M1125,865H1141M1187,865H1203M1050,941H1066M1111,941H1127M1173,941H1189M595,252V272M708,250V268M842,190V208M929,258V276M1164,200V218M974,425V443M152,760V778M154,876V894M154,985V1003" stroke-dasharray="1.5,1"/>
<!-- crystals -->
<use href="#xh" x="637" y="258"/><use href="#xh" x="658" y="258"/><use href="#xh" x="749" y="432"/><use href="#xh" x="777" y="432"/><use href="#xh" x="812" y="432"/><use href="#xh" x="847" y="432"/><use href="#xh" x="881" y="432"/><use href="#xh" x="917" y="432"/><use href="#xh" x="1300" y="244"/><use href="#xh" x="190" y="606"/>
<!-- diodes -->
<use href="#dh" x="832" y="62.6"/><use href="#dv" x="843" y="80"/><use href="#dh" x="818" y="258"/><use href="#dh" x="818" y="272"/><use href="#dh" x="818" y="293"/><use href="#dh" x="818" y="307"/><use href="#dv" x="1317" y="192"/><use href="#dv" x="1275" y="354"/><use href="#dv" x="1011" y="387"/><use href="#dv" x="1331" y="303"/>
<use href="#dv" x="760" y="463"/><use href="#dv" x="795" y="463"/><use href="#dv" x="829" y="463"/><use href="#dv" x="864" y="463"/><use href="#dv" x="899" y="463"/><use href="#dv" x="439" y="478"/><use href="#dh" x="136" y="509"/><use href="#dd" x="990" y="700"/><use href="#dh" x="1020" y="682"/><use href="#dv" x="1052" y="672"/><use href="#dv" x="1254" y="617"/><use href="#dd" x="1331" y="546"/><use href="#dv" x="376.3" y="972"/><use href="#dh" x="554" y="1003"/>
<use href="#dd" x="787.5" y="756"/><use href="#dd" x="801.4" y="756"/><use href="#dd" x="752.6" y="936.5"/><use href="#dd" x="766.5" y="936.5"/><use href="#dd" x="766.5" y="845.5"/><use href="#dd" x="780.5" y="845.5"/><use href="#dh" x="945.4" y="773.5"/><use href="#dh" x="945.4" y="787.4"/><use href="#dh" x="952.4" y="857.1"/><use href="#dh" x="952.4" y="871"/><use href="#dh" x="895.5" y="1031.3"/><use href="#dh" x="895.5" y="1045.3"/><use href="#dh" x="1376" y="759"/><use href="#dv" x="1338" y="812"/><use href="#dv" x="1352" y="812"/><use href="#dv" x="1310" y="896"/>
<!-- grounds -->
<use href="#g" x="404" y="86"/><use href="#g" x="460" y="88"/><use href="#g" x="397" y="188"/><use href="#g" x="369" y="190"/><use href="#g" x="467" y="160"/><use href="#g" x="502" y="160"/><use href="#g" x="536.6" y="160"/><use href="#g" x="551" y="160"/><use href="#g" x="578" y="170"/><use href="#g" x="676" y="134"/><use href="#g" x="662" y="170"/><use href="#g" x="739" y="232"/><use href="#g" x="446" y="260"/><use href="#g" x="585" y="322"/><use href="#g" x="453" y="345"/><use href="#g" x="343" y="366"/><use href="#g" x="425" y="370"/><use href="#g" x="440" y="370"/><use href="#g" x="147" y="336"/><use href="#g" x="195" y="336"/><use href="#g" x="244" y="362"/><use href="#g" x="279" y="402"/>
<use href="#g" x="767" y="105"/><use href="#g" x="892" y="144"/><use href="#g" x="913" y="113"/><use href="#g" x="1003" y="155"/><use href="#g" x="1143" y="148"/><use href="#g" x="1158" y="133"/><use href="#g" x="1234" y="168"/><use href="#g" x="955" y="236"/><use href="#g" x="1024" y="266"/><use href="#g" x="1115" y="266"/><use href="#g" x="1080" y="262"/><use href="#g" x="1164" y="260"/><use href="#g" x="1262" y="297"/><use href="#g" x="1310" y="225"/><use href="#g" x="1227" y="190"/><use href="#g" x="1317" y="202"/><use href="#g" x="1352" y="212"/><use href="#g" x="1366" y="225"/><use href="#g" x="1352" y="270"/><use href="#g" x="1352" y="320"/><use href="#g" x="1366" y="368"/><use href="#g" x="1317" y="362"/><use href="#g" x="1275" y="362"/><use href="#g" x="1213" y="256"/>
<use href="#g" x="830" y="218"/><use href="#g" x="864" y="218"/><use href="#g" x="801" y="222"/><use href="#g" x="696" y="270"/><use href="#g" x="760" y="310"/><use href="#g" x="774" y="310"/><use href="#g" x="864" y="310"/><use href="#g" x="878" y="310"/><use href="#g" x="899" y="300"/><use href="#g" x="947" y="300"/><use href="#g" x="627" y="288"/><use href="#g" x="648" y="288"/><use href="#g" x="669" y="288"/>
<use href="#g" x="746" y="404"/><use href="#g" x="816" y="404"/><use href="#g" x="920" y="404"/><use href="#g" x="739" y="477"/><use href="#g" x="760" y="484"/><use href="#g" x="795" y="484"/><use href="#g" x="829" y="484"/><use href="#g" x="864" y="484"/><use href="#g" x="899" y="484"/><use href="#g" x="934" y="484"/><use href="#g" x="965" y="448"/><use href="#g" x="990" y="470"/><use href="#g" x="883" y="360"/><use href="#g" x="1066" y="402"/><use href="#g" x="1115" y="442"/><use href="#g" x="1066" y="450"/><use href="#g" x="1080" y="452"/>
<use href="#g" x="140" y="565"/><use href="#g" x="195" y="585"/><use href="#g" x="279" y="585"/><use href="#g" x="279" y="620"/><use href="#g" x="105" y="690"/><use href="#g" x="167" y="692"/><use href="#g" x="202" y="692"/><use href="#g" x="237" y="705"/><use href="#g" x="418" y="500"/><use href="#g" x="439" y="500"/><use href="#g" x="377" y="623"/><use href="#g" x="488" y="645"/><use href="#g" x="473" y="650"/><use href="#g" x="557" y="540"/><use href="#g" x="585" y="582"/><use href="#g" x="599" y="616"/><use href="#g" x="508" y="700"/><use href="#g" x="537" y="700"/><use href="#g" x="564" y="700"/><use href="#g" x="585" y="700"/><use href="#g" x="578" y="468"/><use href="#g" x="662" y="700"/><use href="#g" x="676" y="710"/><use href="#g" x="766" y="715"/>
<use href="#g" x="1073" y="646"/><use href="#g" x="1282" y="575"/><use href="#g" x="1296" y="700"/><use href="#g" x="1331" y="643"/><use href="#g" x="1387" y="640"/><use href="#g" x="1233" y="665"/><use href="#g" x="1164" y="665"/>
<use href="#g" x="140" y="790"/><use href="#g" x="181" y="812"/><use href="#g" x="270" y="800"/><use href="#g" x="258" y="830"/><use href="#g" x="140" y="905"/><use href="#g" x="181" y="918"/><use href="#g" x="209" y="918"/><use href="#g" x="258" y="910"/><use href="#g" x="202" y="955"/><use href="#g" x="140" y="1016"/><use href="#g" x="181" y="1036"/><use href="#g" x="222" y="1022"/>
<use href="#g" x="418" y="838"/><use href="#g" x="341.5" y="866"/><use href="#g" x="446" y="840"/><use href="#g" x="369.4" y="903"/><use href="#g" x="383.3" y="903.6"/><use href="#g" x="390.3" y="903.6"/><use href="#g" x="397.2" y="903.6"/><use href="#g" x="474" y="885"/><use href="#g" x="404.2" y="940"/><use href="#g" x="425.1" y="944"/><use href="#g" x="376.3" y="1008"/><use href="#g" x="481" y="1021"/>
<use href="#g" x="508.7" y="845"/><use href="#g" x="543.6" y="845"/><use href="#g" x="564.5" y="880"/><use href="#g" x="662" y="840"/><use href="#g" x="717" y="890"/><use href="#g" x="669" y="962"/><use href="#g" x="683" y="962"/><use href="#g" x="669" y="1000"/><use href="#g" x="613" y="930"/><use href="#g" x="620" y="930"/><use href="#g" x="627" y="930"/><use href="#g" x="599" y="962"/><use href="#g" x="536" y="1028"/>
<use href="#g" x="801.4" y="814"/><use href="#g" x="801.4" y="856"/><use href="#g" x="801.4" y="897"/><use href="#g" x="801.4" y="938"/><use href="#g" x="801.4" y="979"/><use href="#g" x="801.4" y="1021"/><use href="#g" x="759.6" y="1045.3"/><use href="#g" x="871.1" y="838"/><use href="#g" x="933.8" y="922"/><use href="#g" x="871.1" y="1017"/>
<use href="#g" x="1017.4" y="815"/><use href="#g" x="1017.4" y="885"/><use href="#g" x="1017.4" y="975"/><use href="#g" x="1122" y="830"/><use href="#g" x="1136" y="914"/><use href="#g" x="1122" y="990"/><use href="#g" x="1394" y="770"/><use href="#g" x="1394" y="812"/><use href="#g" x="1338" y="833"/><use href="#g" x="1373" y="890"/><use href="#g" x="1324" y="953"/><use href="#g" x="1052" y="729"/>
<!-- transformer cores -->
</g>

<!-- dots -->
<g>
<use href="#d" x="418" y="62.6"/><use href="#d" x="460" y="62.6"/><use href="#d" x="369" y="125.6"/><use href="#d" x="397" y="153"/><use href="#d" x="432" y="125.6"/><use href="#d" x="467" y="125.6"/><use href="#d" x="502" y="125.6"/><use href="#d" x="536.6" y="125.6"/><use href="#d" x="551" y="125.6"/><use href="#d" x="578" y="153.4"/><use href="#d" x="655" y="111.6"/><use href="#d" x="662" y="139.4"/><use href="#d" x="600" y="202"/><use href="#d" x="418" y="223"/><use href="#d" x="739" y="209"/><use href="#d" x="460" y="279"/><use href="#d" x="460" y="314"/><use href="#d" x="453" y="314"/><use href="#d" x="453" y="322"/><use href="#d" x="537" y="251"/><use href="#d" x="537" y="278"/><use href="#d" x="571" y="278"/><use href="#d" x="585" y="278"/><use href="#d" x="585" y="314"/><use href="#d" x="502" y="293"/><use href="#d" x="516" y="293"/><use href="#d" x="313" y="314"/><use href="#d" x="425" y="341"/><use href="#d" x="147" y="300"/><use href="#d" x="195" y="300"/><use href="#d" x="230" y="300"/><use href="#d" x="272" y="300"/><use href="#d" x="230" y="341"/><use href="#d" x="279" y="362"/><use href="#d" x="279" y="397"/>
<use href="#d" x="767" y="62.6"/><use href="#d" x="795" y="62.6"/><use href="#d" x="815" y="62.6"/><use href="#d" x="843" y="62.6"/><use href="#d" x="878" y="62.6"/><use href="#d" x="913" y="62.6"/><use href="#d" x="941" y="62.6"/><use href="#d" x="767" y="97.7"/><use href="#d" x="795" y="97.7"/><use href="#d" x="815" y="97.7"/><use href="#d" x="878" y="125.6"/><use href="#d" x="941" y="97.7"/><use href="#d" x="983" y="97.7"/><use href="#d" x="1003" y="83.5"/><use href="#d" x="1017.6" y="49"/><use href="#d" x="1052" y="49"/><use href="#d" x="1017.6" y="111.6"/><use href="#d" x="1052" y="97.7"/><use href="#d" x="1003" y="146.4"/><use href="#d" x="1017.6" y="146.4"/><use href="#d" x="1052" y="146.4"/><use href="#d" x="1080" y="146.4"/><use href="#d" x="1094" y="104.7"/><use href="#d" x="1143" y="111.6"/><use href="#d" x="1234" y="139.4"/>
<use href="#d" x="955" y="174"/><use href="#d" x="955" y="209"/><use href="#d" x="989" y="209"/><use href="#d" x="1024" y="223"/><use href="#d" x="1024" y="257"/><use href="#d" x="1087" y="188"/><use href="#d" x="1045" y="195"/><use href="#d" x="1045" y="230"/><use href="#d" x="1045" y="278"/><use href="#d" x="1136" y="195"/><use href="#d" x="1150" y="195"/><use href="#d" x="1150" y="223"/><use href="#d" x="1150" y="230"/><use href="#d" x="1101" y="223"/><use href="#d" x="1115" y="223"/><use href="#d" x="1115" y="254"/><use href="#d" x="1184" y="264"/><use href="#d" x="1213" y="244"/><use href="#d" x="1227" y="285"/><use href="#d" x="1282" y="216"/><use href="#d" x="1282" y="237"/><use href="#d" x="1310" y="216"/><use href="#d" x="1268" y="181"/><use href="#d" x="1317" y="181"/><use href="#d" x="1366" y="195"/><use href="#d" x="1317" y="244"/><use href="#d" x="1352" y="244"/><use href="#d" x="1317" y="257"/><use href="#d" x="1317" y="292"/><use href="#d" x="1331" y="292"/><use href="#d" x="1352" y="313"/><use href="#d" x="1275" y="341"/><use href="#d" x="1317" y="341"/><use href="#d" x="1136" y="306"/>
<use href="#d" x="830" y="188"/><use href="#d" x="830" y="209"/><use href="#d" x="760" y="195"/><use href="#d" x="787" y="195"/><use href="#d" x="760" y="209"/><use href="#d" x="787" y="209"/><use href="#d" x="627" y="258"/><use href="#d" x="648" y="258"/><use href="#d" x="669" y="258"/><use href="#d" x="739" y="265"/><use href="#d" x="712" y="286"/><use href="#d" x="807" y="258"/><use href="#d" x="835" y="258"/><use href="#d" x="807" y="307"/><use href="#d" x="835" y="307"/><use href="#d" x="774" y="298"/><use href="#d" x="864" y="265"/><use href="#d" x="899" y="278"/><use href="#d" x="899" y="300"/>
<use href="#d" x="739" y="432"/><use href="#d" x="760" y="432"/><use href="#d" x="795" y="432"/><use href="#d" x="829" y="432"/><use href="#d" x="864" y="432"/><use href="#d" x="899" y="432"/><use href="#d" x="934" y="432"/><use href="#d" x="760" y="383"/><use href="#d" x="795" y="383"/><use href="#d" x="816" y="383"/><use href="#d" x="829" y="383"/><use href="#d" x="864" y="383"/><use href="#d" x="899" y="383"/><use href="#d" x="829" y="342"/><use href="#d" x="760" y="452"/><use href="#d" x="795" y="452"/><use href="#d" x="829" y="452"/><use href="#d" x="864" y="452"/><use href="#d" x="899" y="452"/><use href="#d" x="760" y="474"/><use href="#d" x="795" y="474"/><use href="#d" x="829" y="474"/><use href="#d" x="864" y="474"/><use href="#d" x="899" y="474"/><use href="#d" x="990" y="425"/><use href="#d" x="990" y="446"/><use href="#d" x="1038" y="446"/><use href="#d" x="1080" y="383"/><use href="#d" x="1080" y="418"/><use href="#d" x="1101" y="418"/><use href="#d" x="1115" y="418"/><use href="#d" x="1101" y="369"/>
<use href="#d" x="112" y="536"/><use href="#d" x="126" y="536"/><use href="#d" x="154" y="536"/><use href="#d" x="160" y="536"/><use href="#d" x="167" y="536"/><use href="#d" x="140" y="557"/><use href="#d" x="209" y="564"/><use href="#d" x="265" y="564"/><use href="#d" x="160" y="628"/><use href="#d" x="167" y="620"/><use href="#d" x="167" y="668"/><use href="#d" x="202" y="668"/><use href="#d" x="237" y="668"/><use href="#d" x="418" y="460"/><use href="#d" x="439" y="460"/><use href="#d" x="488" y="627"/><use href="#d" x="585" y="557"/><use href="#d" x="599" y="592"/><use href="#d" x="641" y="557"/><use href="#d" x="641" y="592"/><use href="#d" x="641" y="627"/><use href="#d" x="544" y="439"/><use href="#d" x="557" y="439"/><use href="#d" x="606" y="439"/><use href="#d" x="620" y="439"/><use href="#d" x="578" y="460"/><use href="#d" x="662" y="655"/><use href="#d" x="676" y="668.6"/><use href="#d" x="557" y="529.5"/><use href="#d" x="408" y="515.5"/><use href="#d" x="543.5" y="571"/>
<use href="#d" x="962" y="620"/><use href="#d" x="976" y="620"/><use href="#d" x="1003" y="620"/><use href="#d" x="1024" y="606"/><use href="#d" x="990" y="655"/><use href="#d" x="990" y="690"/><use href="#d" x="1052" y="655"/><use href="#d" x="1052" y="683"/><use href="#d" x="1052" y="717"/><use href="#d" x="1073" y="620"/>
<use href="#d" x="1233" y="529.5"/><use href="#d" x="1282" y="529.5"/><use href="#d" x="1296" y="529.5"/><use href="#d" x="1331" y="529.5"/><use href="#d" x="1359" y="529.5"/><use href="#d" x="1282" y="564"/><use href="#d" x="1331" y="564"/><use href="#d" x="1296" y="599"/><use href="#d" x="1233" y="599"/><use href="#d" x="1254" y="599"/><use href="#d" x="1331" y="613"/><use href="#d" x="1387" y="613"/><use href="#d" x="1296" y="655"/><use href="#d" x="1296" y="690"/><use href="#d" x="1199" y="648"/>
<use href="#d" x="119" y="760"/><use href="#d" x="119" y="878"/><use href="#d" x="119" y="989"/><use href="#d" x="181" y="745"/><use href="#d" x="181" y="774"/><use href="#d" x="181" y="801"/><use href="#d" x="209" y="774"/><use href="#d" x="244" y="787"/><use href="#d" x="244" y="815"/><use href="#d" x="181" y="871"/><use href="#d" x="181" y="892"/><use href="#d" x="209" y="892"/><use href="#d" x="181" y="912"/><use href="#d" x="216" y="947"/><use href="#d" x="237" y="947"/><use href="#d" x="216" y="975"/><use href="#d" x="237" y="975"/><use href="#d" x="181" y="982"/><use href="#d" x="181" y="1002"/><use href="#d" x="181" y="1024"/><use href="#d" x="306" y="864"/><use href="#d" x="293" y="948"/><use href="#d" x="272" y="1037"/>
<use href="#d" x="320.6" y="808"/><use href="#d" x="355.4" y="808"/><use href="#d" x="355.4" y="843"/><use href="#d" x="383.3" y="864"/><use href="#d" x="397.2" y="864"/><use href="#d" x="460" y="780.4"/><use href="#d" x="460" y="822.3"/><use href="#d" x="460" y="864"/><use href="#d" x="446" y="885"/><use href="#d" x="460" y="919.8"/><use href="#d" x="404.2" y="919.8"/><use href="#d" x="390.3" y="954.7"/><use href="#d" x="508.7" y="808"/><use href="#d" x="543.6" y="808"/><use href="#d" x="578.4" y="808"/><use href="#d" x="578.4" y="857"/><use href="#d" x="620" y="808"/><use href="#d" x="676" y="787"/><use href="#d" x="683" y="794"/><use href="#d" x="697" y="829"/><use href="#d" x="711" y="794"/><use href="#d" x="745" y="794"/><use href="#d" x="683" y="843"/><use href="#d" x="683" y="864"/><use href="#d" x="683" y="878"/><use href="#d" x="717" y="864"/><use href="#d" x="717" y="878"/><use href="#d" x="683" y="898"/><use href="#d" x="683" y="933"/><use href="#d" x="683" y="939"/><use href="#d" x="669" y="939"/><use href="#d" x="648" y="975"/><use href="#d" x="648" y="1003"/><use href="#d" x="536" y="1003"/><use href="#d" x="613" y="891"/><use href="#d" x="627" y="891"/>
<use href="#d" x="801.4" y="745.6"/><use href="#d" x="801.4" y="766.5"/><use href="#d" x="787.5" y="780.5"/><use href="#d" x="780.5" y="829.2"/><use href="#d" x="801.4" y="864.1"/><use href="#d" x="801.4" y="905.9"/><use href="#d" x="752.6" y="919.8"/><use href="#d" x="766.5" y="961.6"/><use href="#d" x="752.6" y="1017.4"/><use href="#d" x="905.9" y="1031.3"/><use href="#d" x="933.8" y="898.9"/><use href="#d" x="883.5" y="913"/>
<use href="#d" x="954.7" y="773.5"/><use href="#d" x="954.7" y="787.4"/><use href="#d" x="954.7" y="801.4"/><use href="#d" x="968.6" y="850.1"/><use href="#d" x="968.6" y="857.1"/><use href="#d" x="968.6" y="961.6"/><use href="#d" x="1003.5" y="794.4"/><use href="#d" x="1003.5" y="878"/><use href="#d" x="1003.5" y="954.7"/>
<use href="#d" x="1031.4" y="787.4"/><use href="#d" x="1080" y="787.4"/><use href="#d" x="1094" y="787.4"/><use href="#d" x="1143" y="787.4"/><use href="#d" x="1157" y="787.4"/><use href="#d" x="1206" y="787.4"/><use href="#d" x="1080" y="822.3"/><use href="#d" x="1094" y="822.3"/><use href="#d" x="1143" y="822.3"/><use href="#d" x="1157" y="822.3"/><use href="#d" x="1122" y="822.3"/>
<use href="#d" x="1031.4" y="871"/><use href="#d" x="1045.3" y="871"/><use href="#d" x="1094" y="871"/><use href="#d" x="1108" y="871"/><use href="#d" x="1157" y="871"/><use href="#d" x="1171" y="871"/><use href="#d" x="1220" y="871"/><use href="#d" x="1234" y="871"/><use href="#d" x="1045.3" y="905.9"/><use href="#d" x="1094" y="905.9"/><use href="#d" x="1108" y="905.9"/><use href="#d" x="1136" y="905.9"/><use href="#d" x="1157" y="905.9"/><use href="#d" x="1171" y="905.9"/>
<use href="#d" x="1031.4" y="947.7"/><use href="#d" x="1080" y="947.7"/><use href="#d" x="1094" y="947.7"/><use href="#d" x="1143" y="947.7"/><use href="#d" x="1157" y="947.7"/><use href="#d" x="1206" y="947.7"/><use href="#d" x="1080" y="982.5"/><use href="#d" x="1094" y="982.5"/><use href="#d" x="1122" y="982.5"/><use href="#d" x="1143" y="982.5"/><use href="#d" x="1157" y="982.5"/>
<use href="#d" x="1254" y="843.2"/><use href="#d" x="1254" y="878"/><use href="#d" x="1296.3" y="836.2"/><use href="#d" x="1303.3" y="836.2"/><use href="#d" x="1303.3" y="912.9"/><use href="#d" x="1303.3" y="989.5"/><use href="#d" x="1317" y="759"/><use href="#d" x="1317" y="780"/><use href="#d" x="1317" y="885"/><use href="#d" x="1366" y="794"/><use href="#d" x="1352" y="794"/><use href="#d" x="1338" y="822"/><use href="#d" x="1324" y="941"/>
</g>

<!-- ===== text ===== -->
<g>
<!-- frame labels -->
<text x="70" y="8">A</text><text x="208" y="8">B</text><text x="348" y="8">C</text><text x="488" y="8">D</text><text x="627" y="8">E</text><text x="766" y="8">F</text><text x="906" y="8">G</text><text x="1045" y="8">H</text><text x="1186" y="8">I</text><text x="1323" y="8">J</text><text x="1463" y="8">K</text>
<text x="70" y="1079">A</text><text x="208" y="1079">B</text><text x="348" y="1079">C</text><text x="488" y="1079">D</text><text x="627" y="1079">E</text><text x="766" y="1079">F</text><text x="906" y="1079">G</text><text x="1045" y="1079">H</text><text x="1186" y="1079">I</text><text x="1323" y="1079">J</text><text x="1463" y="1079">K</text>
<text x="2" y="70">1</text><text x="2" y="208">2</text><text x="2" y="348">3</text><text x="2" y="488">4</text><text x="2" y="628">5</text><text x="2" y="767">6</text><text x="2" y="907">7</text><text x="2" y="1047">8</text>
<text x="1563" y="70">1</text><text x="1563" y="208">2</text><text x="1563" y="348">3</text><text x="1563" y="488">4</text><text x="1563" y="628">5</text><text x="1563" y="767">6</text><text x="1563" y="907">7</text><text x="1563" y="1047">8</text>
<!-- top-left -->
<text x="430" y="41">1k</text><text x="389" y="75">103</text><text x="465" y="75">103</text><text x="437" y="98">220µH</text><text x="400" y="105">100k</text>
<text class="L" x="474" y="67" textLength="40" lengthAdjust="spacingAndGlyphs">RB+12v</text>
<text class="m" x="305" y="130">ANT</text><text x="340" y="118">103</text><text x="390" y="118">J310</text><text x="405" y="124">D</text><text x="343" y="145">220µH</text><text x="352" y="174">100</text><text x="383" y="174">103</text><text x="444" y="137">104</text>
<text x="480" y="119">T25-6 0.2UEW21T</text><text x="471" y="147">15p</text><text x="506" y="147">22p</text><text x="522" y="147">15p</text><text x="555" y="147">1k</text><text class="m" x="473" y="179">Fx100MHz -35dBc</text>
<text class="m" x="357" y="226">— Lo in —</text>
<text class="m" x="598" y="95">SN16913P</text><text x="583" y="106">103</text><text x="583" y="135">103</text><text x="583" y="150">103</text><text x="643" y="98">33</text><text x="679" y="87">200</text><text x="680" y="125">103</text><text x="647" y="134">103</text><text x="647" y="149">103</text><text x="613" y="169">100</text><text x="630" y="186">220p</text>
<text class="m" x="715" y="199">5v</text>
<text x="452" y="233">SN74LVC1G3157DBVR</text><text x="562" y="264">30p</text><text x="548" y="272">20k</text><text x="487" y="311">1k</text><text x="575" y="333">1k</text><text x="589" y="305">1k</text><text x="602" y="298">103</text><text x="565" y="353">5v</text><text x="466" y="324">TB+10v</text><text x="456" y="341">103</text>
<text class="L" x="515" y="366" textLength="27" lengthAdjust="spacingAndGlyphs">B+5v</text>
<text x="586" y="240">10Ktype</text><text x="589" y="248">12/6t</text><text x="631" y="249">64M</text><text x="652" y="249">64M</text><text x="631" y="279">1p</text><text x="652" y="279">5p</text><text x="673" y="279">1p</text><text x="701" y="239">10k</text><text x="700" y="247">6/12t</text><text x="744" y="259">98p</text><text x="743" y="285">50p</text>
<text class="m" x="361" y="298">SN16913</text><text x="318" y="327">180p</text><text x="340" y="281">100</text><text x="340" y="337">103</text><text x="340" y="350">103</text><text x="403" y="324">103</text><text x="403" y="351">103</text><text x="403" y="366">103</text>
<text class="m" x="160" y="284">fc=55MHz</text><text x="144" y="293">6φuew0.2 2.9t密巻</text><text x="163" y="311">0.16µH</text><text x="150" y="320">62p</text><text x="178" y="320">62p</text><text x="208" y="312">104</text><text x="221" y="289">FB801 torifirer4T</text><text class="m" x="283" y="283">C1923</text><text x="288" y="304">200k</text><text x="284" y="350">50</text><text x="248" y="358">103</text><text x="235" y="383">33</text><text x="265" y="382">100</text><text x="297" y="382">220p</text>
<!-- AGC -->
<text class="L" x="725" y="67" textLength="22" lengthAdjust="spacingAndGlyphs">AGC</text>
<text x="822" y="55">1SS357</text><text x="855" y="55">220p</text><text x="946" y="55">103</text><text x="772" y="87">100k</text><text x="798" y="91">103</text><text x="818" y="91">10µF</text><text x="845" y="90">1SS357</text><text x="883" y="88">1k</text><text x="855" y="113">220µH</text><text x="896" y="139">103</text><text x="916" y="88">C1815</text><text x="923" y="76">200k</text>
<text class="L" x="843" y="150" textLength="33" lengthAdjust="spacingAndGlyphs">B+12v</text>
<text x="983" y="68">2.4k</text><text x="1021" y="76">103</text><text x="972" y="88">2SK212</text><text x="1006" y="89">D</text><text x="1032" y="82">2.4M</text><text x="1030" y="110">103</text><text x="964" y="122">100k</text><text x="989" y="130">100</text><text x="1021" y="133">103470</text><text x="1064" y="128">1.2k</text><text x="1081" y="99">C1815</text><text x="1097" y="133">220p</text><text class="m" x="1023" y="157">AM DET</text>
<text x="1116" y="124">4.7µF</text><text x="1153" y="92">20k</text><text x="1147" y="126">20k</text><text class="m" x="1198" y="95">B+5v</text><text x="1232" y="105">1k</text><text x="1149" y="164">SN74LVC1G3157DBVR</text><text x="1216" y="151">4.7µF</text><text x="1243" y="166">DTC114</text>
<text class="L" x="1380" y="122" textLength="24" lengthAdjust="spacingAndGlyphs">AM+</text>
<text class="L" x="1283" y="144" textLength="29" lengthAdjust="spacingAndGlyphs">AFout</text>
<text class="m" x="1380" y="158">TB+12</text>
<text class="L" x="913" y="185" textLength="23" lengthAdjust="spacingAndGlyphs">AGC</text>
<text x="1024" y="168">100k</text><text x="937" y="197">100k</text><text x="966" y="203">20k</text><text x="944" y="230">103</text><text x="970" y="229">220p</text><text x="997" y="193">2SK544</text><text x="1029" y="208">RFC</text><text x="1027" y="224">6.8µH</text><text x="996" y="249">103</text><text x="1029" y="251">100</text><text x="1062" y="200">220p</text><text x="1061" y="217">20p</text>
<text x="1094" y="188">2SK439</text><text x="1140" y="181">39p</text><text x="1121" y="216">10k</text><text x="1137" y="221">68p</text><text x="1155" y="193">10k</text><text x="1166" y="200">12/3t</text><text x="1087" y="251">103</text><text x="1063" y="258">103</text><text x="1119" y="252">100</text><text x="1152" y="251">103</text><text x="1189" y="242">RFC</text><text x="1186" y="258">220µH</text><text x="1203" y="270">220p</text><text x="1199" y="242">103</text>
<text class="L" x="1052" y="297" textLength="34" lengthAdjust="spacingAndGlyphs">RB+12</text>
<text class="m" x="1233" y="199">NE602</text><text x="1252" y="173">103</text><text x="1286" y="189">100</text><text x="1322" y="195">RD6.2</text><text x="1350" y="184">C1815</text><text x="1382" y="189">20k</text><text x="1377" y="221">DTC114</text><text x="1290" y="197">15p</text><text x="1290" y="232">68p</text><text x="1289" y="222">68p</text><text x="1295" y="257">12M</text><text x="1329" y="238">103</text><text x="1230" y="277">103</text><text x="1245" y="282">2N7000</text>
<text class="L" x="1375" y="248" textLength="25" lengthAdjust="spacingAndGlyphs">+B5v</text>
<text x="1337" y="262">C1815</text><text x="1382" y="267">20k</text>
<text class="L" x="1393" y="276" textLength="27" lengthAdjust="spacingAndGlyphs">USB+</text>
<text x="1302" y="273">RFC</text><text x="1300" y="282">14µH</text><text x="1334" y="279">20k</text><text x="1336" y="307">1SV231</text><text x="1370" y="310">30p</text><text x="1321" y="323">100k</text>
<text class="m" x="1366" y="325">11.997.0/7.7v DTC114 off</text><text class="m" x="1366" y="334">11.996.1/1.8v DTC114 on</text>
<text class="L" x="1206" y="345" textLength="32" lengthAdjust="spacingAndGlyphs">+B12v</text>
<text x="1252" y="336">4.7k</text><text x="1288" y="336">22k</text><text x="1335" y="336">6.8k</text><text x="1280" y="358">RD8.2</text><text x="1321" y="357">103</text><text x="1340" y="358">DTC114</text>
<text class="L" x="1400" y="373" textLength="26" lengthAdjust="spacingAndGlyphs">LSB+</text>
<!-- OSC / mixer -->
<text class="m" x="752" y="186">NC</text><text x="754" y="206">52MHz OSC</text><text x="743" y="224">103</text><text x="815" y="181">7p</text><text x="815" y="207">15p</text><text x="837" y="178">10k</text><text x="845" y="186">5/2t</text>
<text x="808" y="252">1SS154</text><text x="887" y="264">98p</text><text x="881" y="297">288p</text><text x="916" y="266">10k</text><text x="929" y="273">12/6t</text>
<!-- xtal filter -->
<text x="739" y="345">12v 5.5KHz BW</text><text x="805" y="336">10k</text><text x="850" y="336">1k</text><text x="876" y="346">DTC114</text><text x="906" y="365">1.1v 2.4KHz BW</text>
<text x="732" y="400">103</text><text x="802" y="400">103</text><text x="907" y="401">103</text><text x="764" y="406">100k</text><text x="798" y="416">100k</text><text x="832" y="410">100k</text><text x="867" y="413">100k</text><text x="902" y="417">100k</text>
<text x="744" y="427">12M</text><text x="772" y="425">12M</text><text x="807" y="427">12M</text><text x="842" y="427">12M</text><text x="876" y="427">12M</text><text x="912" y="427">12M</text>
<text x="743" y="446">30p</text><text x="741" y="468">68p</text><text x="775" y="481">30p</text><text x="810" y="482">30p</text><text x="844" y="481">30p</text><text x="879" y="482">30p</text><text x="914" y="483">30p</text>
<text x="751" y="497">1SV231</text><text x="786" y="497">1SV231</text><text x="820" y="497">1SV231</text><text x="855" y="497">1SV231</text><text x="890" y="497">1SV231</text>
<text x="937" y="453">30p</text><text x="937" y="472">68p</text><text x="963" y="414">10k</text><text x="975" y="420">6/12t</text><text x="994" y="439">68p</text><text x="977" y="460">103</text><text x="1018" y="390">1N4148</text>
<text x="1022" y="471">TB+12v</text>
<text x="1057" y="370">2SK241</text><text x="1050" y="396">103</text><text x="1084" y="404">51</text><text x="1087" y="390">20k</text><text x="1114" y="381">220p</text><text x="1119" y="431">103</text><text x="1084" y="440">100k</text><text x="1033" y="421">DTC114</text>
<text class="L" x="1066" y="470" textLength="33" lengthAdjust="spacingAndGlyphs">B+12v</text>
<!-- VFO -->
<text class="L" x="188" y="456" textLength="57" lengthAdjust="spacingAndGlyphs">Local VFO</text><text x="250" y="457">(3.5+64(IF)=67.5~144+64=168MHz)</text>
<text class="L" x="97" y="491" textLength="33" lengthAdjust="spacingAndGlyphs">B+12v</text>
<text x="81" y="522">100</text><text x="126" y="526">78L33</text><text x="109" y="549">103</text><text x="143" y="554">103</text>
<text class="L" x="167" y="527" textLength="55" lengthAdjust="spacingAndGlyphs">3.3v 30mA</text>
<text class="L" x="216" y="583" textLength="34" lengthAdjust="spacingAndGlyphs">Si5351</text>
<text x="180" y="577">103</text><text x="283" y="577">103</text><text x="172" y="586">10k</text><text x="144" y="604">10k</text><text class="x" x="177" y="598">25MHz</text>
<text x="221" y="603">Vd</text><text x="221" y="610">Xa</text><text x="221" y="617">Xb</text><text x="221" y="624">scl</text><text x="221" y="631">sDA</text><text x="235" y="617">GND</text><text x="237" y="624">Vdd</text>
<text x="180" y="623">SCL 2</text><text x="180" y="630">SDA 3</text>
<text class="L" x="77" y="660" textLength="91" lengthAdjust="spacingAndGlyphs">Lo out =0.15Vrms</text>
<text x="176" y="662">0.3µH</text><text x="212" y="662">470</text><text x="250" y="662">33</text><text x="277" y="662">103</text><text x="150" y="683">10p</text><text x="208" y="684">10p</text><text x="242" y="694">1k</text>
<text x="104" y="709">空芯　φ0.6 UEW0.2 5.5t 1.5mm蜜巻</text>
<text class="L" x="488" y="443" textLength="32" lengthAdjust="spacingAndGlyphs">B+12v</text>
<text class="m" x="481" y="464">TX B+</text><text x="465" y="469">20k</text><text x="423" y="481">20k</text><text x="445" y="482">RD5.1</text>
<text class="L" x="342" y="485" textLength="26" lengthAdjust="spacingAndGlyphs">B+5v</text>
<text x="292" y="505">144MHz</text><text x="313" y="526">50MHz</text><text class="m" x="334" y="535">CW AM LSB</text><text class="m" x="376" y="520">USB</text>
<text x="412" y="518">MCR</text><text x="410" y="532">RA0</text><text x="410" y="546">RA1</text><text x="410" y="560">RA2</text><text x="410" y="574">RA3</text><text x="410" y="588">RA4</text><text x="410" y="602">RA5</text><text class="L" x="410" y="617">Vss</text><text x="410" y="630">OS1</text><text x="410" y="644">OS2</text><text x="410" y="658">RC0</text><text x="410" y="672">RC1</text><text x="410" y="686">RC3</text><text x="410" y="700">RC3</text>
<text x="440" y="518">RB7</text><text x="440" y="532">RB6</text><text x="440" y="546">RB5</text><text x="440" y="560">RB4</text><text x="440" y="574">RB3</text><text x="440" y="588">RB2</text><text x="440" y="602">RB1</text><text x="440" y="616">RB0</text><text class="L" x="432" y="631">Vdd</text><text class="L" x="432" y="645">Vss</text><text x="440" y="658">RC7</text><text x="440" y="672">RC6</text><text x="440" y="686">RC5</text><text x="440" y="700">RC4</text>
<text x="474" y="636">103</text><text x="497" y="655">1k</text><text x="527" y="662">1k</text><text x="567" y="657">1k</text><text x="590" y="661">1k</text><text x="490" y="691">step</text><text x="513" y="685">band</text><text x="542" y="685">mem</text><text x="567" y="694">mode</text>
<text x="514" y="567">A</text><text x="514" y="574">B</text><text x="514" y="581">C</text>
<text class="m" x="564" y="512">ON/encoder*4multi</text><text class="m" x="564" y="520">open/Encoder*1</text><text class="m" x="564" y="534">ON/enble144MHz</text>
<text x="598" y="551">10k</text><text x="588" y="574">473</text><text x="612" y="586">10k</text><text x="602" y="609">473</text>
<text class="m" x="571" y="443">78L05</text><text x="525" y="453">22µF</text><text x="560" y="456">103</text><text x="594" y="456">103</text><text x="624" y="453">22µF</text>
<text x="703" y="573">GRID5GRID6</text><text x="703" y="587">GRID4</text><text x="703" y="601">GRID3</text><text x="703" y="615">GRID2</text><text x="703" y="629">GRID1</text><text x="703" y="643">VDD</text><text x="703" y="657">DIO</text><text x="703" y="671">CLK</text>
<text x="731" y="587">SEG8</text><text x="731" y="601">SEG7</text><text x="731" y="615">SEG6</text><text x="731" y="629">SEG5</text><text x="731" y="643">SEG4</text><text x="731" y="657">SEG3</text><text x="731" y="671">SEG2</text><text x="731" y="685">SEG1</text><text x="724" y="699">GND</text>
<g transform="rotate(-90)"><text x="-589" y="798">DP</text><text x="-602" y="798">G</text><text x="-616" y="798">F</text><text x="-630" y="798">E</text><text x="-644" y="798">D</text><text x="-658" y="798">C</text><text x="-671" y="798">B</text><text x="-685" y="798">A</text>
<text x="-582" y="832">K1</text><text x="-603" y="832">K2</text><text x="-624" y="832">K3</text><text x="-645" y="832">K4</text><text x="-666" y="832">K5</text><text x="-689" y="832">K6</text></g>
<text class="L" x="781" y="708" textLength="62" lengthAdjust="spacingAndGlyphs">ELT512GWA</text><text class="m" x="787" y="716">anodo komon</text>
<text class="L" x="704" y="722" textLength="39" lengthAdjust="spacingAndGlyphs">TM1637</text>
<text x="600" y="683">1k</text><text x="615" y="698">1k</text><text x="650" y="681">220p</text><text x="685" y="706">220p</text>
<text class="L" x="592" y="715" textLength="21" lengthAdjust="spacingAndGlyphs">SDA</text>
<text class="L" x="605" y="736" textLength="20" lengthAdjust="spacingAndGlyphs">SCL</text>
<!-- PTT -->
<text class="L" x="968" y="576" textLength="40" lengthAdjust="spacingAndGlyphs">TB+12v</text><text class="L" x="1017" y="576" textLength="33" lengthAdjust="spacingAndGlyphs">B+12v</text><text class="L" x="1059" y="589" textLength="40" lengthAdjust="spacingAndGlyphs">RB+12v</text>
<text x="945" y="641">20k</text><text x="967" y="639">A1015</text><text x="972" y="677">4.7k</text><text x="946" y="690">220µF</text><text x="1030" y="641">A1015</text><text x="1030" y="649">20k</text><text x="1057" y="675">RD4.3</text><text x="1057" y="706">22k</text><text x="1018" y="711">100µF</text><text x="1077" y="637">103</text>
<text x="960" y="743">KEY</text><text class="L" x="996" y="742" textLength="19" lengthAdjust="spacingAndGlyphs">PTT</text>
<!-- ECM -->
<text class="L" x="1198" y="512" textLength="42" lengthAdjust="spacingAndGlyphs">TB+12v</text>
<text x="1250" y="523">470</text><text x="1307" y="523">4.7k</text><text x="1239" y="552">100µF</text><text x="1259" y="551">100µF</text><text x="1336" y="554">LED</text><text x="1364" y="551">22µF</text><text x="1391" y="558">2.4k</text><text x="1301" y="579">1k</text><text x="1263" y="592">4.7µF</text><text x="1306" y="592">100k</text><text x="1347" y="606">4.7µF</text><text x="1277" y="614">C1815</text>
<text class="L" x="1400" y="624" textLength="22" lengthAdjust="spacingAndGlyphs">ECM</text>
<text x="1215" y="623">940k</text><text x="1258" y="625">1N4148</text><text x="1258" y="645">470k</text><text x="1281" y="641">100</text><text x="1281" y="676">330</text><text x="1334" y="642">DTC114</text><text x="1314" y="685">DTC114</text><text x="1205" y="664">DTC114</text><text x="1167" y="664">DTC114</text><text x="1169" y="617">6.8k</text>
<text class="L" x="1128" y="596" textLength="34" lengthAdjust="spacingAndGlyphs">B+12v</text>
<text class="m" x="1191" y="715">AM+</text><text class="m" x="1262" y="722">CW+</text>
<!-- bottom-left -->
<text x="143" y="750">10k</text><text x="144" y="757">2:12t</text><text x="185" y="767">100p</text><text x="185" y="788">330p</text><text x="213" y="788">220p*2</text><text x="229" y="806">45p</text><text x="262" y="804">45p</text><text x="222" y="866">45p</text>
<text x="146" y="868">10k</text><text x="145" y="875">3:12t</text><text x="185" y="885">47p</text><text x="185" y="906">220p</text><text x="213" y="906">68p</text><text x="266" y="886">C</text>
<text x="199" y="970">20p</text><text x="221" y="971">15p</text><text x="255" y="971">7p</text><text x="145" y="979">10k</text><text x="145" y="986">3:9t</text><text x="185" y="995">33p</text><text x="185" y="1018">220p</text>
<text class="L" x="300" y="1057" textLength="20" lengthAdjust="spacingAndGlyphs">Ry+</text>
<text x="379" y="785">RD00HVS1</text><text x="375" y="800">47</text><text x="333" y="820">102</text><text x="360" y="829">1k</text><text x="323" y="857">103</text><text class="m" x="383" y="849">78L05</text><text x="355" y="878">10k</text><text x="372" y="893">103</text><text x="399" y="891">103</text>
<text class="m" x="424" y="763">FB3.5*2</text><text class="m" x="424" y="772">UEW0.2φBuff4T</text><text x="431" y="841">103</text><text x="465" y="840">1Ω</text><text x="417" y="873">C1815</text><text x="477" y="878">103</text><text x="431" y="905">20k</text><text x="403" y="912">C1815</text><text x="406" y="933">103</text><text x="378" y="938">1k</text><text x="351" y="975">1N60P</text><text class="m" x="367" y="994">Key</text><text x="394" y="974">20k</text>
<text class="L" x="390" y="1001" textLength="20" lengthAdjust="spacingAndGlyphs">CW+</text>
<text x="469" y="935">2SB772</text><text x="486" y="975">500</text><text x="486" y="992">2SC1815</text><text x="505" y="1013">20k</text>
<text x="488" y="820">103</text><text x="513" y="831">470</text><text x="522" y="820">10</text><text x="528" y="835">470</text><text x="556" y="820">103</text><text x="600" y="802">10</text><text x="562" y="845">100</text><text x="549" y="870">103</text><text x="632" y="767">470</text><text x="655" y="767">104</text><text x="625" y="829">RD06HHF1</text>
<text x="720" y="767">473</text><text x="719" y="788">510p</text><text x="721" y="820">103</text><text x="707" y="838">100µF25v</text><text x="692" y="858">103</text><text x="693" y="888">104</text>
<text x="652" y="908">0.1Ω 1/2W</text><text class="m" x="689" y="917">idle500mA</text><text class="m" x="689" y="926">Peak1.5A</text><text x="653" y="955">103</text><text x="690" y="957">220µ 25v</text><text x="673" y="990">1000µF</text>
<text class="L" x="627" y="1028" textLength="43" lengthAdjust="spacingAndGlyphs">B+13.5v</text>
<text class="m" x="611" y="875">78L08</text><text x="586" y="910">1k</text><text x="585" y="946">1k</text><text x="602" y="922">103</text><text x="628" y="919">103</text><text class="m" x="563" y="987">B+12v</text><text class="m" x="563" y="1007">TB+</text><text x="542" y="1022">1µF</text>
<!-- band switch -->
<text class="m" x="808" y="783">7MHz</text><text x="785" y="795">c1815</text><text class="m" x="808" y="825">10MHz</text><text x="785" y="837">c1815</text><text class="m" x="808" y="860">14MHz</text><text x="785" y="879">c1815</text><text class="m" x="773" y="902">18MHz</text><text x="785" y="921">c1815</text><text class="m" x="773" y="943">21MHz</text><text x="785" y="962">c1815</text><text class="m" x="787" y="992">24.5MHz</text><text x="785" y="1004">c1815</text><text class="m" x="752" y="1013">28MHz</text><text x="750" y="1033">c1815</text>
<text class="m" x="864" y="806">3.5MHz</text><text x="855" y="824">c1815</text><text x="901" y="830">1k</text><text class="m" x="929" y="833">B+5v</text><text x="937" y="918">103</text>
<text class="m" x="877" y="903">74HC595</text>
<text x="856" y="906">1k</text><text x="856" y="920">1k</text><text x="856" y="934">1k</text><text x="856" y="948">1k</text><text x="856" y="962">1k</text><text x="856" y="976">1k</text><text x="856" y="990">1k</text><text x="920" y="935">1k</text><text x="920" y="963">1k</text><text x="920" y="977">1k</text>
<text class="m" x="967" y="1035">SER</text><text class="m" x="967" y="1042">RCK</text><text class="m" x="967" y="1049">SCK</text>
<!-- filters -->
<text class="m" x="1108" y="750">7MHz~10MHz</text><text class="m" x="1108" y="759">fc10.1MHz</text>
<text x="1046" y="768">T37#2</text><text x="1112" y="768">T37#2</text><text x="1174" y="768">T37#2</text><text x="1040" y="777">0.4φEW16T</text><text x="1100" y="775">0.4φEW15T</text><text x="1163" y="777">0.4φEW16T</text>
<text class="m" x="1044" y="799">1.0µH</text><text class="m" x="1108" y="799">0.9µH</text><text class="m" x="1170" y="799">1.0µH</text>
<text x="1034" y="816">510p</text><text x="1064" y="814">510p</text><text x="1097" y="815">300p</text><text x="1128" y="814">510p</text><text x="1160" y="815">300p</text><text x="1190" y="814">510p</text>
<text class="m" x="989" y="847">14MHz~18MHz</text><text class="m" x="989" y="856">fc18.2MHz</text>
<text x="1059" y="852">T25#6</text><text x="1123" y="852">T25#6</text><text x="1185" y="852">T25#6</text><text x="1051" y="862">0.4φEW15T</text><text x="1113" y="859">0.4φEW16T</text><text x="1176" y="862">0.4φEW15T</text>
<text class="m" x="1057" y="882">0.6µH</text><text class="m" x="1120" y="882">0.65µH</text><text class="m" x="1183" y="882">0.6µH</text>
<text x="1019" y="900">200p</text><text x="1048" y="899">200p</text><text x="1083" y="897">50p</text><text x="1111" y="898">300p</text><text x="1145" y="897">50p</text><text x="1174" y="898">300p</text><text x="1205" y="897">200p</text><text x="1237" y="899">200p</text>
<text x="1045" y="929">T25#6</text><text x="1117" y="929">T25#6</text><text x="1179" y="929">T25#6</text><text x="1040" y="938">0.4φEW12T</text><text x="1100" y="936">0.4φEW13T</text><text x="1163" y="938">0.4φEW12T</text>
<text class="m" x="1042" y="958">0.39µH</text><text class="m" x="1106" y="958">0.43µH</text><text class="m" x="1168" y="958">0.39µH</text>
<text x="1034" y="976">120p</text><text x="1064" y="974">180p</text><text x="1097" y="975">39p</text><text x="1128" y="974">180p</text><text x="1160" y="975">39p</text><text x="1190" y="974">120p</text>
<text class="m" x="1118" y="1000">21MHz~28MHz</text><text class="m" x="1118" y="1009">fc29.5MHz</text>
<text class="m" x="1296" y="1015">Ry+</text>
<text class="m" x="1303" y="750">TB+12v</text><text x="1336" y="752">100k</text><text x="1370" y="752">LED</text><text x="1333" y="774">2.4k</text><text x="1370" y="805">103</text><text class="m" x="1379" y="826">RxAnt</text>
<text class="L" x="1380" y="876" textLength="21" lengthAdjust="spacingAndGlyphs">ANT</text>
<text x="1327" y="925">150</text>
<text class="L" x="1331" y="944" textLength="67" lengthAdjust="spacingAndGlyphs">TX outMax3w</text>
</g>
</svg>
</body></html>
